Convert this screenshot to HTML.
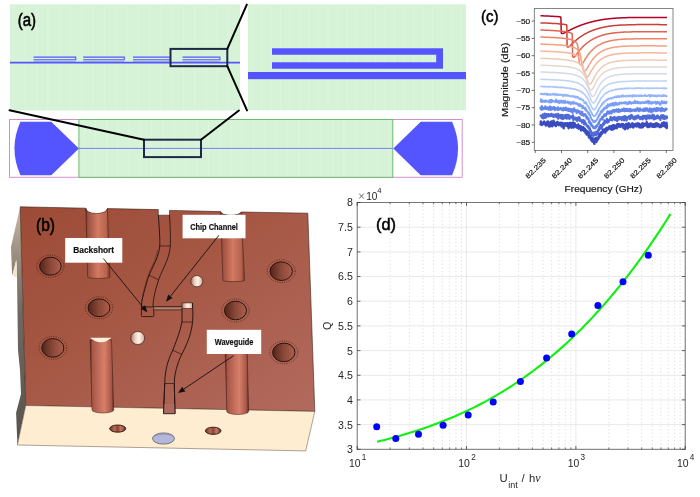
<!DOCTYPE html>
<html><head><meta charset="utf-8"><style>
html,body{margin:0;padding:0;background:#fff;width:700px;height:497px;overflow:hidden}
svg{display:block;will-change:transform}
</style></head><body>
<svg width="700" height="497" viewBox="0 0 700 497">
<rect width="700" height="497" fill="#fff"/>
<defs>
<linearGradient id="face" x1="0" y1="0" x2="1" y2="1">
  <stop offset="0" stop-color="#9c4b36"/>
  <stop offset="0.45" stop-color="#a65845"/>
  <stop offset="1" stop-color="#b26a5e"/>
</linearGradient>
<linearGradient id="side" x1="0" y1="0" x2="0" y2="1">
  <stop offset="0" stop-color="#cbbba6"/>
  <stop offset="0.2" stop-color="#9a8e80"/>
  <stop offset="0.45" stop-color="#6e6860"/>
  <stop offset="1" stop-color="#58534d"/>
</linearGradient>
<linearGradient id="pipe" x1="0" y1="0" x2="1" y2="0">
  <stop offset="0" stop-color="#5a2a1e"/>
  <stop offset="0.08" stop-color="#9a5040"/>
  <stop offset="0.5" stop-color="#d27a62"/>
  <stop offset="0.85" stop-color="#b8644e"/>
  <stop offset="1" stop-color="#7a3a2a"/>
</linearGradient>
<linearGradient id="boss" x1="0" y1="0" x2="1" y2="0">
  <stop offset="0" stop-color="#5a2a20"/>
  <stop offset="0.1" stop-color="#a85646"/>
  <stop offset="0.6" stop-color="#d6806a"/>
  <stop offset="0.9" stop-color="#a85848"/>
  <stop offset="1" stop-color="#5a2a20"/>
</linearGradient>
<linearGradient id="hole" x1="0" y1="0" x2="1" y2="0">
  <stop offset="0" stop-color="#50261a"/>
  <stop offset="0.5" stop-color="#8a4838"/>
  <stop offset="1" stop-color="#ac604e"/>
</linearGradient>
<linearGradient id="cream" x1="0" y1="0" x2="1" y2="0">
  <stop offset="0" stop-color="#a87868"/>
  <stop offset="0.35" stop-color="#f0d8c8"/>
  <stop offset="0.6" stop-color="#fff4e8"/>
  <stop offset="1" stop-color="#d0a890"/>
</linearGradient>
<linearGradient id="fh" x1="0" y1="0" x2="1" y2="0">
  <stop offset="0" stop-color="#6a3024"/>
  <stop offset="0.3" stop-color="#b86a58"/>
  <stop offset="0.5" stop-color="#8a4434"/>
  <stop offset="0.7" stop-color="#c87866"/>
  <stop offset="1" stop-color="#6a3024"/>
</linearGradient>
</defs>
<path d="M20.2 206.8 L11 246.8 L12.1 275.5 L16.5 260 L17 278 L18 350 L20 370 L21 394 L16.1 412.7 L17.4 445 L25.8 405.5 L22.5 290 Z" fill="url(#side)"/>
<path d="M12.6 275.8 L16.1 259.7 L17 277.5 Z" fill="#f4e4c8"/>
<path d="M20.2 206.8 L85.8 208.2 A10.8 6 0 0 0 107.4 208.6 L158.3 209.6 L158.3 215.2 L169.5 215.2 L169.5 210.4 L220.6 211.6 A10.3 3.6 0 0 0 241.2 212 L307.8 213.2 L314.8 411.4 L25.8 405.5 Z" fill="url(#face)" stroke="#3a2018" stroke-width="0.6"/>
<path d="M25.8 405.5 L314.8 411.4 L305.7 450.9 L17.4 445 Z" fill="#ffedd2" stroke="#5a4a40" stroke-width="0.5"/>
<path d="M85.8 208.4 A10.8 5 0 0 0 107.4 208.6 L109.9 277.2 A11 1.2 0 0 1 87.7 277.2 Z" fill="url(#pipe)" stroke="#4a2418" stroke-width="0.6"/>
<path d="M220.6 211.6 A10.3 3.6 0 0 0 241.2 212 L244.6 280.4 A10.8 1.2 0 0 1 222.9 280.4 Z" fill="url(#pipe)" stroke="#4a2418" stroke-width="0.6"/>
<path d="M90.1 340 L92 410 A10.85 3 0 0 0 113.7 410 L111.5 340 Z" fill="url(#boss)" stroke="#3a1a10" stroke-width="0.5"/>
<path d="M90.1 337.7 L111.5 337.7 Q101 347 90.1 337.7 Z" fill="#fbf0dc"/>
<path d="M225.2 350 L226.8 411.5 A10.9 3 0 0 0 248.6 411.5 L247.2 350 Z" fill="url(#boss)" stroke="#3a1a10" stroke-width="0.5"/>
<ellipse cx="50.4" cy="266.2" rx="13.600000000000001" ry="11.1" fill="none" stroke="#3a180e" stroke-width="0.75" stroke-dasharray="0.9 1.4"/>
<ellipse cx="50.4" cy="266.2" rx="10.8" ry="9" fill="url(#hole)" stroke="#2a120c" stroke-width="1"/>
<ellipse cx="99" cy="307.8" rx="13.7" ry="11.0" fill="none" stroke="#3a180e" stroke-width="0.75" stroke-dasharray="0.9 1.4"/>
<ellipse cx="99" cy="307.8" rx="10.9" ry="8.9" fill="url(#hole)" stroke="#2a120c" stroke-width="1"/>
<ellipse cx="52.8" cy="347.9" rx="13.8" ry="11.4" fill="none" stroke="#3a180e" stroke-width="0.75" stroke-dasharray="0.9 1.4"/>
<ellipse cx="52.8" cy="347.9" rx="11" ry="9.3" fill="url(#hole)" stroke="#2a120c" stroke-width="1"/>
<ellipse cx="281.2" cy="271.2" rx="14.0" ry="11.4" fill="none" stroke="#3a180e" stroke-width="0.75" stroke-dasharray="0.9 1.4"/>
<ellipse cx="281.2" cy="271.2" rx="11.2" ry="9.3" fill="url(#hole)" stroke="#2a120c" stroke-width="1"/>
<ellipse cx="235.5" cy="310.5" rx="13.8" ry="11.4" fill="none" stroke="#3a180e" stroke-width="0.75" stroke-dasharray="0.9 1.4"/>
<ellipse cx="235.5" cy="310.5" rx="11" ry="9.3" fill="url(#hole)" stroke="#2a120c" stroke-width="1"/>
<ellipse cx="283.8" cy="352.4" rx="14.0" ry="11.4" fill="none" stroke="#3a180e" stroke-width="0.75" stroke-dasharray="0.9 1.4"/>
<ellipse cx="283.8" cy="352.4" rx="11.2" ry="9.3" fill="url(#hole)" stroke="#2a120c" stroke-width="1"/>
<ellipse cx="196.8" cy="281.2" rx="6" ry="5.6" fill="url(#cream)" stroke="#3a2018" stroke-width="0.7"/>
<ellipse cx="137.7" cy="338" rx="7" ry="6.5" fill="url(#cream)" stroke="#3a2018" stroke-width="0.7"/>
<ellipse cx="117.7" cy="428.6" rx="8" ry="3.6" fill="url(#fh)" stroke="#2a120a" stroke-width="0.9"/>
<ellipse cx="213.2" cy="430.8" rx="7.8" ry="3.6" fill="url(#fh)" stroke="#2a120a" stroke-width="0.9"/>
<ellipse cx="163.5" cy="438.5" rx="11" ry="5.6" fill="#b4b8d8" stroke="#4a4a5a" stroke-width="0.7"/>
<path d="M153 437.5 A11 4.6 0 0 1 174 437.5" fill="none" stroke="#8a8ca8" stroke-width="0.8"/>
<path d="M158.3 215 C159.5 230 160 240 159.8 246 C158 262 150 268 146 285 C143 295 141.5 302 141.4 307" fill="none" stroke="#2a1610" stroke-width="1"/>
<path d="M169.5 215 C170.5 230 170.5 240 170.3 246 C169 262 161 270 157 285 C154 295 153 302 153 307" fill="none" stroke="#2a1610" stroke-width="0.9"/>
<line x1="159.8" y1="246" x2="170.3" y2="246" stroke="#2a1610" stroke-width="0.7"/>
<path d="M157.5 250 C156 262 149.5 268 145.5 284 C143.5 292 142 298 141.2 302" fill="none" stroke="#3a2018" stroke-width="0.6" opacity="0.8"/>
<line x1="148.5" y1="275" x2="159" y2="280" stroke="#2a1610" stroke-width="0.7"/>
<rect x="141.4" y="306.9" width="12.4" height="9.7" rx="1" fill="none" stroke="#2a1610" stroke-width="0.9"/>
<line x1="153.8" y1="306.6" x2="182" y2="306.6" stroke="#2a1a14" stroke-width="0.8"/>
<line x1="153.8" y1="308.2" x2="182" y2="308.2" stroke="#b0a09a" stroke-width="0.9"/>
<line x1="153.8" y1="310" x2="182" y2="310" stroke="#3a2a24" stroke-width="0.6"/>
<rect x="182" y="302.9" width="10.5" height="5.6" fill="url(#cream)" stroke="#2a1610" stroke-width="0.6"/>
<path d="M192.5 303 C193 312 193.2 320 192 326 C190 338 186 346 180 358 C176 368 174.3 376 174.3 384 L175 413.7" fill="none" stroke="#2a1610" stroke-width="1"/>
<path d="M182 308.5 L182 322 C180 332 176 342 172 352 C168 360 165 370 164.7 384 L163.5 413.7" fill="none" stroke="#2a1610" stroke-width="1"/>
<line x1="182" y1="322" x2="193" y2="322" stroke="#2a1610" stroke-width="0.7"/>
<line x1="173" y1="350.4" x2="182" y2="354.4" stroke="#2a1610" stroke-width="0.7"/>
<line x1="164.7" y1="383.5" x2="174.3" y2="383.5" stroke="#2a1610" stroke-width="0.7"/>
<path d="M163.8 404 L174.9 404 L175 413.7 L163.5 413.7 Z" fill="#ad6a5e"/>
<path d="M164.7 384 L163.5 413.7 L175 413.7 L174.3 384" fill="none" stroke="#2a1610" stroke-width="0.9"/>
<rect x="65.2" y="238" width="57.099999999999994" height="24.69999999999999" fill="#fff"/>
<text x="73.3" y="253.2" textLength="40.8" lengthAdjust="spacingAndGlyphs" font-family='"Liberation Sans", sans-serif' font-weight="bold" font-size="8.9" fill="#111" stroke="#111" stroke-width="0.2">Backshort</text>
<rect x="182.6" y="214.8" width="62.900000000000006" height="23.5" fill="#fff"/>
<text x="190.2" y="229.5" textLength="47.7" lengthAdjust="spacingAndGlyphs" font-family='"Liberation Sans", sans-serif' font-weight="bold" font-size="8.9" fill="#111" stroke="#111" stroke-width="0.2">Chip Channel</text>
<rect x="206.8" y="329.8" width="54.39999999999998" height="24.19999999999999" fill="#fff"/>
<text x="214.7" y="344.8" textLength="38.7" lengthAdjust="spacingAndGlyphs" font-family='"Liberation Sans", sans-serif' font-weight="bold" font-size="8.9" fill="#111" stroke="#111" stroke-width="0.2">Waveguide</text>
<line x1="103.4" y1="258.5" x2="143.0" y2="307.1" stroke="#111" stroke-width="0.9"/>
<path d="M147.4 312.5 L140.8 308.8 L145.1 305.3 Z" fill="#111"/>
<line x1="218.9" y1="235.3" x2="170.4" y2="296.3" stroke="#111" stroke-width="0.9"/>
<path d="M166 301.8 L168.2 294.6 L172.5 298.1 Z" fill="#111"/>
<line x1="233.5" y1="355.7" x2="183.8" y2="389.1" stroke="#111" stroke-width="0.9"/>
<path d="M178 393 L182.2 386.8 L185.4 391.4 Z" fill="#111"/>
<text x="36" y="231.4" textLength="19" lengthAdjust="spacingAndGlyphs" font-family='"Liberation Sans", sans-serif' font-size="17.6" fill="#000" stroke="#000" stroke-width="0.55">(b)</text>
<rect x="10" y="4.3" width="230" height="106.2" fill="#d7f3d7"/>
<rect x="248" y="4.3" width="218" height="105.9" fill="#d7f3d7"/>
<g stroke="#e8f6e8" stroke-width="0.6" opacity="0.6"><line x1="14.0" y1="4.3" x2="14.0" y2="110.5"/><line x1="25.3" y1="4.3" x2="25.3" y2="110.5"/><line x1="36.6" y1="4.3" x2="36.6" y2="110.5"/><line x1="47.900000000000006" y1="4.3" x2="47.900000000000006" y2="110.5"/><line x1="59.2" y1="4.3" x2="59.2" y2="110.5"/><line x1="70.5" y1="4.3" x2="70.5" y2="110.5"/><line x1="81.80000000000001" y1="4.3" x2="81.80000000000001" y2="110.5"/><line x1="93.10000000000001" y1="4.3" x2="93.10000000000001" y2="110.5"/><line x1="104.4" y1="4.3" x2="104.4" y2="110.5"/><line x1="115.7" y1="4.3" x2="115.7" y2="110.5"/><line x1="127.0" y1="4.3" x2="127.0" y2="110.5"/><line x1="138.3" y1="4.3" x2="138.3" y2="110.5"/><line x1="149.60000000000002" y1="4.3" x2="149.60000000000002" y2="110.5"/><line x1="160.9" y1="4.3" x2="160.9" y2="110.5"/><line x1="172.20000000000002" y1="4.3" x2="172.20000000000002" y2="110.5"/><line x1="183.5" y1="4.3" x2="183.5" y2="110.5"/><line x1="194.8" y1="4.3" x2="194.8" y2="110.5"/><line x1="206.10000000000002" y1="4.3" x2="206.10000000000002" y2="110.5"/><line x1="217.4" y1="4.3" x2="217.4" y2="110.5"/><line x1="228.70000000000002" y1="4.3" x2="228.70000000000002" y2="110.5"/></g>
<g stroke="#e8f6e8" stroke-width="0.6" opacity="0.6"><line x1="252.0" y1="4.3" x2="252.0" y2="110.2"/><line x1="261.5" y1="4.3" x2="261.5" y2="110.2"/><line x1="271.0" y1="4.3" x2="271.0" y2="110.2"/><line x1="280.5" y1="4.3" x2="280.5" y2="110.2"/><line x1="290.0" y1="4.3" x2="290.0" y2="110.2"/><line x1="299.5" y1="4.3" x2="299.5" y2="110.2"/><line x1="309.0" y1="4.3" x2="309.0" y2="110.2"/><line x1="318.5" y1="4.3" x2="318.5" y2="110.2"/><line x1="328.0" y1="4.3" x2="328.0" y2="110.2"/><line x1="337.5" y1="4.3" x2="337.5" y2="110.2"/><line x1="347.0" y1="4.3" x2="347.0" y2="110.2"/><line x1="356.5" y1="4.3" x2="356.5" y2="110.2"/><line x1="366.0" y1="4.3" x2="366.0" y2="110.2"/><line x1="375.5" y1="4.3" x2="375.5" y2="110.2"/><line x1="385.0" y1="4.3" x2="385.0" y2="110.2"/><line x1="394.5" y1="4.3" x2="394.5" y2="110.2"/><line x1="404.0" y1="4.3" x2="404.0" y2="110.2"/><line x1="413.5" y1="4.3" x2="413.5" y2="110.2"/><line x1="423.0" y1="4.3" x2="423.0" y2="110.2"/><line x1="432.5" y1="4.3" x2="432.5" y2="110.2"/><line x1="442.0" y1="4.3" x2="442.0" y2="110.2"/><line x1="451.5" y1="4.3" x2="451.5" y2="110.2"/><line x1="461.0" y1="4.3" x2="461.0" y2="110.2"/></g>
<line x1="10" y1="62.6" x2="240" y2="62.6" stroke="#5555ff" stroke-width="1.6"/>
<path d="M33.6 57.1 H75.7 V59.8 H33.6" fill="none" stroke="#5555ff" stroke-width="1.1"/>
<line x1="33.6" y1="61.2" x2="75.7" y2="61.2" stroke="#5555ff" stroke-width="0.8" opacity="0.6"/>
<path d="M83.2 57.1 H124.3 V59.8 H83.2" fill="none" stroke="#5555ff" stroke-width="1.1"/>
<line x1="83.2" y1="61.2" x2="124.3" y2="61.2" stroke="#5555ff" stroke-width="0.8" opacity="0.6"/>
<path d="M133 57.1 H170.5 V59.8 H133" fill="none" stroke="#5555ff" stroke-width="1.1"/>
<line x1="133" y1="61.2" x2="170.5" y2="61.2" stroke="#5555ff" stroke-width="0.8" opacity="0.6"/>
<path d="M182.5 57.1 H219.9 V59.8 H182.5" fill="none" stroke="#5555ff" stroke-width="1.1"/>
<line x1="182.5" y1="61.2" x2="219.9" y2="61.2" stroke="#5555ff" stroke-width="0.8" opacity="0.6"/>
<path d="M272 48.3 H443 V68.8 H272 V62.3 H436.2 V54.8 H272 Z" fill="#5555ff"/>
<rect x="248" y="72" width="218" height="7.2" fill="#5555ff"/>
<rect x="170.5" y="48.9" width="56.8" height="17.3" fill="none" stroke="#1c2a48" stroke-width="2"/>
<g stroke="#000" stroke-width="2" stroke-linecap="round"><line x1="246.8" y1="4.6" x2="227.3" y2="48.9"/><line x1="227.3" y1="66.2" x2="247" y2="110.4"/></g>
<rect x="9.5" y="119.5" width="452.7" height="57.8" fill="#fff" stroke="#d090d0" stroke-width="1"/>
<rect x="78.9" y="119.5" width="313.9" height="57.8" fill="#d7f3d7" stroke="#70b870" stroke-width="1"/>
<g stroke="#e8f6e8" stroke-width="0.6" opacity="0.6"><line x1="84.0" y1="120" x2="84.0" y2="177"/><line x1="95.3" y1="120" x2="95.3" y2="177"/><line x1="106.6" y1="120" x2="106.6" y2="177"/><line x1="117.9" y1="120" x2="117.9" y2="177"/><line x1="129.2" y1="120" x2="129.2" y2="177"/><line x1="140.5" y1="120" x2="140.5" y2="177"/><line x1="151.8" y1="120" x2="151.8" y2="177"/><line x1="163.1" y1="120" x2="163.1" y2="177"/><line x1="174.4" y1="120" x2="174.4" y2="177"/><line x1="185.7" y1="120" x2="185.7" y2="177"/><line x1="197.0" y1="120" x2="197.0" y2="177"/><line x1="208.3" y1="120" x2="208.3" y2="177"/><line x1="219.6" y1="120" x2="219.6" y2="177"/><line x1="230.9" y1="120" x2="230.9" y2="177"/><line x1="242.2" y1="120" x2="242.2" y2="177"/><line x1="253.5" y1="120" x2="253.5" y2="177"/><line x1="264.8" y1="120" x2="264.8" y2="177"/><line x1="276.1" y1="120" x2="276.1" y2="177"/><line x1="287.4" y1="120" x2="287.4" y2="177"/><line x1="298.7" y1="120" x2="298.7" y2="177"/><line x1="310.0" y1="120" x2="310.0" y2="177"/><line x1="321.3" y1="120" x2="321.3" y2="177"/><line x1="332.6" y1="120" x2="332.6" y2="177"/><line x1="343.9" y1="120" x2="343.9" y2="177"/><line x1="355.2" y1="120" x2="355.2" y2="177"/><line x1="366.5" y1="120" x2="366.5" y2="177"/><line x1="377.8" y1="120" x2="377.8" y2="177"/><line x1="389.1" y1="120" x2="389.1" y2="177"/></g>
<line x1="78.9" y1="148.4" x2="392.8" y2="148.4" stroke="#6a74ff" stroke-width="0.9"/>
<path d="M20.4 121.8 H51.3 L78.9 148.5 L51.3 175.2 H20.4 Q8.5 148.5 20.4 121.8 Z" fill="#5555ff"/>
<path d="M452.1 121.8 H420.7 L393.3 148.5 L420.7 175.2 H452.1 Q464 148.5 452.1 121.8 Z" fill="#5555ff"/>
<rect x="144" y="139.7" width="57" height="17.4" fill="none" stroke="#1c2a48" stroke-width="2"/>
<g stroke="#000" stroke-width="2" stroke-linecap="round"><line x1="9.5" y1="110.3" x2="144" y2="139.7"/><line x1="238.9" y1="110.5" x2="201" y2="139.7"/></g>
<text x="17.7" y="26.4" textLength="18.4" lengthAdjust="spacingAndGlyphs" font-family='"Liberation Sans", sans-serif' font-size="17.6" fill="#000" stroke="#000" stroke-width="0.55">(a)</text>
<rect x="534.3" y="8.5" width="138.70000000000005" height="141.9" fill="#fff" stroke="#666" stroke-width="0.8"/>
<g><path d="M540.4 15.7 L542.5 15.8 L544.6 15.9 L546.7 16.0 L548.7 16.1 L550.8 16.2 L552.9 16.3 L555.0 16.4 L555.5 16.4 L555.9 16.5 L556.3 16.5 L556.7 16.5 L557.1 16.6 L557.4 16.6 L557.8 16.6 L558.2 16.7 L558.6 16.7 L559.0 16.7 L559.4 16.8 L559.8 16.8 L560.2 16.9 L560.5 16.9 L560.9 16.9 L561.3 33.2 L561.7 33.5 L562.1 33.5 L562.5 33.5 L562.9 33.4 L563.3 33.3 L563.7 33.2 L564.0 33.0 L564.4 32.9 L564.8 32.7 L565.2 32.5 L565.6 32.3 L566.0 32.1 L566.4 31.9 L566.8 31.7 L567.1 31.5 L567.5 31.3 L567.9 31.1 L568.3 30.9 L568.7 30.7 L569.1 30.5 L569.5 30.3 L569.9 30.1 L570.3 29.9 L570.6 29.7 L571.0 29.5 L571.4 29.3 L571.8 29.1 L572.2 29.0 L572.6 28.8 L573.0 28.6 L573.4 28.4 L573.7 28.2 L574.1 28.0 L574.5 27.9 L574.9 27.7 L575.3 27.5 L575.7 27.3 L576.1 27.2 L576.5 27.0 L576.9 26.8 L577.2 26.7 L577.6 26.5 L578.0 26.4 L578.4 26.2 L578.8 26.0 L579.2 25.9 L579.6 25.7 L580.0 25.6 L580.3 25.4 L580.7 25.3 L581.1 25.1 L581.5 25.0 L581.9 24.9 L582.3 24.7 L582.7 24.6 L583.1 24.4 L583.5 24.3 L583.8 24.2 L584.2 24.1 L584.6 23.9 L585.0 23.8 L585.4 23.7 L585.8 23.5 L586.2 23.4 L586.6 23.3 L586.9 23.2 L587.3 23.1 L587.7 23.0 L588.1 22.8 L588.5 22.7 L588.9 22.6 L589.3 22.5 L589.7 22.4 L590.1 22.3 L590.4 22.2 L590.8 22.1 L591.2 22.0 L591.6 21.9 L592.0 21.8 L592.4 21.7 L592.8 21.6 L593.2 21.5 L593.6 21.4 L593.9 21.3 L594.3 21.2 L594.7 21.1 L595.1 21.0 L595.5 21.0 L595.9 20.9 L596.3 20.8 L596.7 20.7 L597.0 20.6 L597.4 20.6 L597.8 20.5 L598.2 20.4 L598.6 20.3 L599.0 20.2 L599.4 20.2 L599.8 20.1 L600.2 20.0 L600.5 20.0 L600.9 19.9 L601.3 19.8 L601.7 19.8 L602.1 19.7 L602.5 19.6 L602.9 19.6 L603.3 19.5 L603.6 19.5 L604.0 19.4 L604.4 19.3 L604.8 19.3 L605.2 19.2 L605.6 19.2 L606.0 19.1 L606.4 19.1 L606.8 19.0 L607.1 19.0 L607.5 18.9 L607.9 18.9 L608.3 18.8 L608.7 18.8 L609.1 18.8 L609.5 18.7 L609.9 18.7 L610.2 18.6 L610.6 18.6 L611.0 18.6 L611.4 18.5 L611.8 18.5 L612.2 18.4 L612.6 18.4 L613.0 18.4 L613.4 18.3 L613.7 18.3 L614.1 18.3 L614.5 18.2 L614.9 18.2 L615.3 18.2 L615.7 18.2 L616.1 18.1 L616.5 18.1 L616.8 18.1 L617.2 18.1 L617.6 18.0 L618.0 18.0 L618.4 18.0 L618.8 18.0 L619.2 17.9 L619.6 17.9 L620.0 17.9 L620.3 17.9 L620.7 17.9 L621.1 17.8 L621.5 17.8 L621.9 17.8 L622.3 17.8 L622.7 17.8 L623.1 17.8 L623.4 17.7 L623.8 17.7 L624.2 17.7 L624.6 17.7 L625.0 17.7 L626.0 17.7 L628.2 17.6 L630.3 17.5 L632.5 17.5 L634.6 17.5 L636.8 17.4 L638.9 17.4 L641.1 17.4 L643.3 17.4 L645.4 17.4 L647.6 17.4 L649.7 17.4 L651.9 17.4 L654.1 17.4 L656.2 17.4 L658.4 17.5 L660.5 17.5 L662.7 17.5 L664.8 17.5 L667.0 17.5" fill="none" stroke="#b30326" stroke-width="1.50" stroke-linejoin="round"/><path d="M540.4 22.9 L542.5 23.0 L544.6 23.1 L546.7 23.1 L548.7 23.2 L550.8 23.3 L552.9 23.4 L555.0 23.5 L555.5 23.6 L555.9 23.6 L556.3 23.6 L556.7 23.6 L557.1 23.7 L557.4 23.7 L557.8 23.7 L558.2 23.8 L558.6 23.8 L559.0 23.8 L559.4 23.9 L559.8 23.9 L560.2 23.9 L560.5 24.0 L560.9 24.0 L561.3 24.0 L561.7 24.1 L562.1 24.1 L562.5 24.2 L562.9 24.2 L563.3 24.3 L563.7 24.3 L564.0 24.4 L564.4 24.4 L564.8 24.5 L565.2 24.5 L565.6 24.6 L566.0 24.7 L566.4 24.8 L566.8 24.9 L567.1 46.5 L567.5 47.0 L567.9 47.1 L568.3 47.1 L568.7 46.9 L569.1 46.6 L569.5 46.3 L569.9 46.0 L570.3 45.7 L570.6 45.3 L571.0 44.9 L571.4 44.6 L571.8 44.2 L572.2 43.8 L572.6 43.4 L573.0 43.0 L573.4 42.7 L573.7 42.3 L574.1 41.9 L574.5 41.6 L574.9 41.2 L575.3 40.9 L575.7 40.5 L576.1 40.2 L576.5 39.9 L576.9 39.6 L577.2 39.2 L577.6 38.9 L578.0 38.6 L578.4 38.3 L578.8 38.0 L579.2 37.7 L579.6 37.4 L580.0 37.2 L580.3 36.9 L580.7 36.6 L581.1 36.4 L581.5 36.1 L581.9 35.8 L582.3 35.6 L582.7 35.4 L583.1 35.1 L583.5 34.9 L583.8 34.6 L584.2 34.4 L584.6 34.2 L585.0 34.0 L585.4 33.8 L585.8 33.5 L586.2 33.3 L586.6 33.1 L586.9 32.9 L587.3 32.7 L587.7 32.6 L588.1 32.4 L588.5 32.2 L588.9 32.0 L589.3 31.8 L589.7 31.6 L590.1 31.5 L590.4 31.3 L590.8 31.1 L591.2 31.0 L591.6 30.8 L592.0 30.7 L592.4 30.5 L592.8 30.4 L593.2 30.2 L593.6 30.1 L593.9 29.9 L594.3 29.8 L594.7 29.6 L595.1 29.5 L595.5 29.4 L595.9 29.3 L596.3 29.1 L596.7 29.0 L597.0 28.9 L597.4 28.8 L597.8 28.6 L598.2 28.5 L598.6 28.4 L599.0 28.3 L599.4 28.2 L599.8 28.1 L600.2 28.0 L600.5 27.9 L600.9 27.8 L601.3 27.7 L601.7 27.6 L602.1 27.5 L602.5 27.4 L602.9 27.4 L603.3 27.3 L603.6 27.2 L604.0 27.1 L604.4 27.0 L604.8 26.9 L605.2 26.9 L605.6 26.8 L606.0 26.7 L606.4 26.7 L606.8 26.6 L607.1 26.5 L607.5 26.5 L607.9 26.4 L608.3 26.3 L608.7 26.3 L609.1 26.2 L609.5 26.2 L609.9 26.1 L610.2 26.1 L610.6 26.0 L611.0 26.0 L611.4 25.9 L611.8 25.9 L612.2 25.8 L612.6 25.8 L613.0 25.7 L613.4 25.7 L613.7 25.6 L614.1 25.6 L614.5 25.6 L614.9 25.5 L615.3 25.5 L615.7 25.5 L616.1 25.4 L616.5 25.4 L616.8 25.4 L617.2 25.3 L617.6 25.3 L618.0 25.3 L618.4 25.2 L618.8 25.2 L619.2 25.2 L619.6 25.2 L620.0 25.1 L620.3 25.1 L620.7 25.1 L621.1 25.1 L621.5 25.1 L621.9 25.0 L622.3 25.0 L622.7 25.0 L623.1 25.0 L623.4 25.0 L623.8 24.9 L624.2 24.9 L624.6 24.9 L625.0 24.9 L626.0 24.9 L628.2 24.8 L630.3 24.7 L632.5 24.7 L634.6 24.7 L636.8 24.6 L638.9 24.6 L641.1 24.6 L643.3 24.6 L645.4 24.6 L647.6 24.6 L649.7 24.6 L651.9 24.6 L654.1 24.6 L656.2 24.6 L658.4 24.6 L660.5 24.7 L662.7 24.7 L664.8 24.7 L667.0 24.7" fill="none" stroke="#cc3f39" stroke-width="1.50" stroke-linejoin="round"/><path d="M540.4 30.0 L542.5 30.1 L544.6 30.2 L546.7 30.3 L548.7 30.3 L550.8 30.4 L552.9 30.5 L555.0 30.7 L555.5 30.7 L555.9 30.7 L556.3 30.7 L556.7 30.8 L557.1 30.8 L557.4 30.8 L557.8 30.9 L558.2 30.9 L558.6 30.9 L559.0 30.9 L559.4 31.0 L559.8 31.0 L560.2 31.0 L560.5 31.1 L560.9 31.1 L561.3 31.1 L561.7 31.2 L562.1 31.2 L562.5 31.3 L562.9 31.3 L563.3 31.4 L563.7 31.4 L564.0 31.5 L564.4 31.5 L564.8 31.6 L565.2 31.6 L565.6 31.7 L566.0 31.7 L566.4 31.8 L566.8 31.9 L567.1 32.0 L567.5 32.0 L567.9 32.1 L568.3 32.2 L568.7 32.3 L569.1 32.4 L569.5 32.5 L569.9 32.7 L570.3 32.8 L570.6 33.0 L571.0 33.1 L571.4 33.3 L571.8 33.5 L572.2 33.8 L572.6 56.2 L573.0 57.0 L573.4 57.3 L573.7 57.3 L574.1 57.1 L574.5 56.8 L574.9 56.4 L575.3 55.9 L575.7 55.5 L576.1 55.0 L576.5 54.5 L576.9 53.9 L577.2 53.4 L577.6 52.9 L578.0 52.4 L578.4 51.9 L578.8 51.4 L579.2 50.9 L579.6 50.4 L580.0 49.9 L580.3 49.5 L580.7 49.0 L581.1 48.6 L581.5 48.1 L581.9 47.7 L582.3 47.3 L582.7 46.9 L583.1 46.5 L583.5 46.1 L583.8 45.8 L584.2 45.4 L584.6 45.0 L585.0 44.7 L585.4 44.4 L585.8 44.0 L586.2 43.7 L586.6 43.4 L586.9 43.1 L587.3 42.8 L587.7 42.5 L588.1 42.2 L588.5 41.9 L588.9 41.6 L589.3 41.4 L589.7 41.1 L590.1 40.9 L590.4 40.6 L590.8 40.4 L591.2 40.1 L591.6 39.9 L592.0 39.7 L592.4 39.5 L592.8 39.2 L593.2 39.0 L593.6 38.8 L593.9 38.6 L594.3 38.4 L594.7 38.2 L595.1 38.0 L595.5 37.9 L595.9 37.7 L596.3 37.5 L596.7 37.3 L597.0 37.2 L597.4 37.0 L597.8 36.8 L598.2 36.7 L598.6 36.5 L599.0 36.4 L599.4 36.3 L599.8 36.1 L600.2 36.0 L600.5 35.8 L600.9 35.7 L601.3 35.6 L601.7 35.5 L602.1 35.3 L602.5 35.2 L602.9 35.1 L603.3 35.0 L603.6 34.9 L604.0 34.8 L604.4 34.7 L604.8 34.6 L605.2 34.5 L605.6 34.4 L606.0 34.3 L606.4 34.2 L606.8 34.1 L607.1 34.0 L607.5 34.0 L607.9 33.9 L608.3 33.8 L608.7 33.7 L609.1 33.7 L609.5 33.6 L609.9 33.5 L610.2 33.5 L610.6 33.4 L611.0 33.3 L611.4 33.3 L611.8 33.2 L612.2 33.2 L612.6 33.1 L613.0 33.1 L613.4 33.0 L613.7 33.0 L614.1 32.9 L614.5 32.9 L614.9 32.8 L615.3 32.8 L615.7 32.7 L616.1 32.7 L616.5 32.7 L616.8 32.6 L617.2 32.6 L617.6 32.6 L618.0 32.5 L618.4 32.5 L618.8 32.5 L619.2 32.4 L619.6 32.4 L620.0 32.4 L620.3 32.3 L620.7 32.3 L621.1 32.3 L621.5 32.3 L621.9 32.2 L622.3 32.2 L622.7 32.2 L623.1 32.2 L623.4 32.2 L623.8 32.1 L624.2 32.1 L624.6 32.1 L625.0 32.1 L626.0 32.0 L628.2 32.0 L630.3 31.9 L632.5 31.8 L634.6 31.8 L636.8 31.8 L638.9 31.7 L641.1 31.7 L643.3 31.7 L645.4 31.7 L647.6 31.7 L649.7 31.7 L651.9 31.7 L654.1 31.7 L656.2 31.7 L658.4 31.8 L660.5 31.8 L662.7 31.8 L664.8 31.8 L667.0 31.8" fill="none" stroke="#df644f" stroke-width="1.50" stroke-linejoin="round"/><path d="M540.4 37.0 L542.5 37.1 L544.6 37.2 L546.7 37.3 L548.7 37.3 L550.8 37.4 L552.9 37.5 L555.0 37.6 L555.5 37.7 L555.9 37.7 L556.3 37.7 L556.7 37.7 L557.1 37.8 L557.4 37.8 L557.8 37.8 L558.2 37.9 L558.6 37.9 L559.0 37.9 L559.4 37.9 L559.8 38.0 L560.2 38.0 L560.5 38.0 L560.9 38.1 L561.3 38.1 L561.7 38.1 L562.1 38.2 L562.5 38.2 L562.9 38.3 L563.3 38.3 L563.7 38.3 L564.0 38.4 L564.4 38.4 L564.8 38.5 L565.2 38.5 L565.6 38.6 L566.0 38.6 L566.4 38.7 L566.8 38.7 L567.1 38.8 L567.5 38.9 L567.9 38.9 L568.3 39.0 L568.7 39.1 L569.1 39.2 L569.5 39.3 L569.9 39.3 L570.3 39.4 L570.6 39.5 L571.0 39.6 L571.4 39.8 L571.8 39.9 L572.2 40.0 L572.6 40.2 L573.0 40.3 L573.4 40.5 L573.7 40.7 L574.1 40.9 L574.5 41.1 L574.9 41.4 L575.3 41.7 L575.7 42.0 L576.1 42.4 L576.5 42.9 L576.9 43.5 L577.2 44.3 L577.6 45.3 L578.0 47.1 L578.4 51.4 L578.8 58.1 L579.2 61.4 L579.6 63.2 L580.0 64.3 L580.3 64.8 L580.7 65.0 L581.1 65.0 L581.5 64.7 L581.9 64.3 L582.3 63.8 L582.7 63.3 L583.1 62.7 L583.5 62.1 L583.8 61.4 L584.2 60.8 L584.6 60.1 L585.0 59.5 L585.4 58.8 L585.8 58.2 L586.2 57.6 L586.6 57.0 L586.9 56.4 L587.3 55.9 L587.7 55.3 L588.1 54.8 L588.5 54.3 L588.9 53.8 L589.3 53.3 L589.7 52.8 L590.1 52.3 L590.4 51.9 L590.8 51.5 L591.2 51.1 L591.6 50.6 L592.0 50.3 L592.4 49.9 L592.8 49.5 L593.2 49.2 L593.6 48.8 L593.9 48.5 L594.3 48.1 L594.7 47.8 L595.1 47.5 L595.5 47.2 L595.9 46.9 L596.3 46.7 L596.7 46.4 L597.0 46.1 L597.4 45.9 L597.8 45.6 L598.2 45.4 L598.6 45.2 L599.0 44.9 L599.4 44.7 L599.8 44.5 L600.2 44.3 L600.5 44.1 L600.9 43.9 L601.3 43.7 L601.7 43.5 L602.1 43.4 L602.5 43.2 L602.9 43.0 L603.3 42.9 L603.6 42.7 L604.0 42.6 L604.4 42.4 L604.8 42.3 L605.2 42.2 L605.6 42.0 L606.0 41.9 L606.4 41.8 L606.8 41.7 L607.1 41.6 L607.5 41.5 L607.9 41.4 L608.3 41.3 L608.7 41.2 L609.1 41.1 L609.5 41.0 L609.9 40.9 L610.2 40.8 L610.6 40.7 L611.0 40.6 L611.4 40.6 L611.8 40.5 L612.2 40.4 L612.6 40.4 L613.0 40.3 L613.4 40.2 L613.7 40.2 L614.1 40.1 L614.5 40.1 L614.9 40.0 L615.3 40.0 L615.7 39.9 L616.1 39.9 L616.5 39.8 L616.8 39.8 L617.2 39.7 L617.6 39.7 L618.0 39.6 L618.4 39.6 L618.8 39.6 L619.2 39.5 L619.6 39.5 L620.0 39.5 L620.3 39.4 L620.7 39.4 L621.1 39.4 L621.5 39.3 L621.9 39.3 L622.3 39.3 L622.7 39.3 L623.1 39.2 L623.4 39.2 L623.8 39.2 L624.2 39.2 L624.6 39.1 L625.0 39.1 L626.0 39.1 L628.2 39.0 L630.3 38.9 L632.5 38.9 L634.6 38.8 L636.8 38.8 L638.9 38.8 L641.1 38.7 L643.3 38.7 L645.4 38.7 L647.6 38.7 L649.7 38.7 L651.9 38.7 L654.1 38.7 L656.2 38.8 L658.4 38.8 L660.5 38.8 L662.7 38.8 L664.8 38.8 L667.0 38.8" fill="none" stroke="#ed8467" stroke-width="1.50" stroke-linejoin="round"/><path d="M540.4 44.1 L542.5 44.2 L544.6 44.3 L546.7 44.3 L548.7 44.4 L550.8 44.5 L552.9 44.6 L555.0 44.7 L555.5 44.8 L555.9 44.8 L556.3 44.8 L556.7 44.8 L557.1 44.9 L557.4 44.9 L557.8 44.9 L558.2 44.9 L558.6 45.0 L559.0 45.0 L559.4 45.0 L559.8 45.0 L560.2 45.1 L560.5 45.1 L560.9 45.1 L561.3 45.2 L561.7 45.2 L562.1 45.2 L562.5 45.3 L562.9 45.3 L563.3 45.4 L563.7 45.4 L564.0 45.4 L564.4 45.5 L564.8 45.5 L565.2 45.6 L565.6 45.6 L566.0 45.7 L566.4 45.7 L566.8 45.8 L567.1 45.8 L567.5 45.9 L567.9 45.9 L568.3 46.0 L568.7 46.1 L569.1 46.1 L569.5 46.2 L569.9 46.3 L570.3 46.4 L570.6 46.5 L571.0 46.6 L571.4 46.7 L571.8 46.8 L572.2 46.9 L572.6 47.0 L573.0 47.1 L573.4 47.2 L573.7 47.4 L574.1 47.5 L574.5 47.7 L574.9 47.9 L575.3 48.1 L575.7 48.3 L576.1 48.5 L576.5 48.8 L576.9 49.0 L577.2 49.4 L577.6 49.7 L578.0 50.1 L578.4 50.6 L578.8 51.1 L579.2 51.8 L579.6 52.6 L580.0 53.6 L580.3 54.8 L580.7 56.4 L581.1 58.5 L581.5 61.0 L581.9 63.6 L582.3 66.0 L582.7 67.9 L583.1 69.3 L583.5 70.4 L583.8 71.0 L584.2 71.3 L584.6 71.4 L585.0 71.2 L585.4 70.9 L585.8 70.5 L586.2 69.9 L586.6 69.3 L586.9 68.7 L587.3 68.0 L587.7 67.3 L588.1 66.6 L588.5 65.9 L588.9 65.2 L589.3 64.6 L589.7 63.9 L590.1 63.3 L590.4 62.7 L590.8 62.0 L591.2 61.5 L591.6 60.9 L592.0 60.3 L592.4 59.8 L592.8 59.3 L593.2 58.8 L593.6 58.3 L593.9 57.9 L594.3 57.4 L594.7 57.0 L595.1 56.6 L595.5 56.2 L595.9 55.8 L596.3 55.4 L596.7 55.0 L597.0 54.7 L597.4 54.3 L597.8 54.0 L598.2 53.7 L598.6 53.4 L599.0 53.1 L599.4 52.8 L599.8 52.6 L600.2 52.3 L600.5 52.1 L600.9 51.8 L601.3 51.6 L601.7 51.4 L602.1 51.1 L602.5 50.9 L602.9 50.7 L603.3 50.5 L603.6 50.3 L604.0 50.2 L604.4 50.0 L604.8 49.8 L605.2 49.7 L605.6 49.5 L606.0 49.4 L606.4 49.2 L606.8 49.1 L607.1 49.0 L607.5 48.8 L607.9 48.7 L608.3 48.6 L608.7 48.5 L609.1 48.4 L609.5 48.3 L609.9 48.2 L610.2 48.1 L610.6 48.0 L611.0 47.9 L611.4 47.8 L611.8 47.7 L612.2 47.6 L612.6 47.6 L613.0 47.5 L613.4 47.4 L613.7 47.4 L614.1 47.3 L614.5 47.2 L614.9 47.2 L615.3 47.1 L615.7 47.1 L616.1 47.0 L616.5 47.0 L616.8 46.9 L617.2 46.9 L617.6 46.8 L618.0 46.8 L618.4 46.7 L618.8 46.7 L619.2 46.7 L619.6 46.6 L620.0 46.6 L620.3 46.6 L620.7 46.5 L621.1 46.5 L621.5 46.5 L621.9 46.4 L622.3 46.4 L622.7 46.4 L623.1 46.4 L623.4 46.3 L623.8 46.3 L624.2 46.3 L624.6 46.3 L625.0 46.2 L626.0 46.2 L628.2 46.1 L630.3 46.0 L632.5 46.0 L634.6 45.9 L636.8 45.9 L638.9 45.9 L641.1 45.8 L643.3 45.8 L645.4 45.8 L647.6 45.8 L649.7 45.8 L651.9 45.8 L654.1 45.8 L656.2 45.9 L658.4 45.9 L660.5 45.9 L662.7 45.9 L664.8 45.9 L667.0 45.9" fill="none" stroke="#f5a081" stroke-width="1.50" stroke-linejoin="round"/><path d="M540.4 51.1 L542.5 51.2 L544.6 51.3 L546.7 51.3 L548.7 51.4 L550.8 51.5 L552.9 51.6 L555.0 51.7 L555.5 51.7 L555.9 51.8 L556.3 51.8 L556.7 51.8 L557.1 51.8 L557.4 51.9 L557.8 51.9 L558.2 51.9 L558.6 51.9 L559.0 52.0 L559.4 52.0 L559.8 52.0 L560.2 52.0 L560.5 52.1 L560.9 52.1 L561.3 52.1 L561.7 52.2 L562.1 52.2 L562.5 52.2 L562.9 52.3 L563.3 52.3 L563.7 52.4 L564.0 52.4 L564.4 52.4 L564.8 52.5 L565.2 52.5 L565.6 52.6 L566.0 52.6 L566.4 52.7 L566.8 52.7 L567.1 52.8 L567.5 52.8 L567.9 52.9 L568.3 52.9 L568.7 53.0 L569.1 53.1 L569.5 53.1 L569.9 53.2 L570.3 53.3 L570.6 53.4 L571.0 53.4 L571.4 53.5 L571.8 53.6 L572.2 53.7 L572.6 53.8 L573.0 53.9 L573.4 54.0 L573.7 54.2 L574.1 54.3 L574.5 54.4 L574.9 54.6 L575.3 54.7 L575.7 54.9 L576.1 55.1 L576.5 55.3 L576.9 55.5 L577.2 55.8 L577.6 56.0 L578.0 56.3 L578.4 56.6 L578.8 57.0 L579.2 57.4 L579.6 57.8 L580.0 58.3 L580.3 58.9 L580.7 59.5 L581.1 60.3 L581.5 61.2 L581.9 62.3 L582.3 63.5 L582.7 65.0 L583.1 66.6 L583.5 68.4 L583.8 70.3 L584.2 72.0 L584.6 73.6 L585.0 75.0 L585.4 76.0 L585.8 76.8 L586.2 77.2 L586.6 77.4 L586.9 77.4 L587.3 77.2 L587.7 76.8 L588.1 76.4 L588.5 75.8 L588.9 75.2 L589.3 74.5 L589.7 73.8 L590.1 73.1 L590.4 72.4 L590.8 71.7 L591.2 71.0 L591.6 70.4 L592.0 69.7 L592.4 69.1 L592.8 68.4 L593.2 67.8 L593.6 67.2 L593.9 66.7 L594.3 66.1 L594.7 65.6 L595.1 65.1 L595.5 64.6 L595.9 64.1 L596.3 63.7 L596.7 63.2 L597.0 62.8 L597.4 62.4 L597.8 62.0 L598.2 61.6 L598.6 61.3 L599.0 60.9 L599.4 60.6 L599.8 60.3 L600.2 60.0 L600.5 59.7 L600.9 59.4 L601.3 59.1 L601.7 58.8 L602.1 58.6 L602.5 58.4 L602.9 58.1 L603.3 57.9 L603.6 57.7 L604.0 57.5 L604.4 57.3 L604.8 57.1 L605.2 56.9 L605.6 56.7 L606.0 56.6 L606.4 56.4 L606.8 56.3 L607.1 56.1 L607.5 56.0 L607.9 55.9 L608.3 55.7 L608.7 55.6 L609.1 55.5 L609.5 55.4 L609.9 55.3 L610.2 55.2 L610.6 55.1 L611.0 55.0 L611.4 54.9 L611.8 54.8 L612.2 54.7 L612.6 54.6 L613.0 54.5 L613.4 54.5 L613.7 54.4 L614.1 54.3 L614.5 54.3 L614.9 54.2 L615.3 54.1 L615.7 54.1 L616.1 54.0 L616.5 54.0 L616.8 53.9 L617.2 53.9 L617.6 53.8 L618.0 53.8 L618.4 53.7 L618.8 53.7 L619.2 53.7 L619.6 53.6 L620.0 53.6 L620.3 53.6 L620.7 53.5 L621.1 53.5 L621.5 53.5 L621.9 53.4 L622.3 53.4 L622.7 53.4 L623.1 53.3 L623.4 53.3 L623.8 53.3 L624.2 53.3 L624.6 53.3 L625.0 53.2 L626.0 53.2 L628.2 53.1 L630.3 53.0 L632.5 53.0 L634.6 52.9 L636.8 52.9 L638.9 52.9 L641.1 52.8 L643.3 52.8 L645.4 52.8 L647.6 52.8 L649.7 52.8 L651.9 52.8 L654.1 52.8 L656.2 52.8 L658.4 52.9 L660.5 52.9 L662.7 52.9 L664.8 52.9 L667.0 52.9" fill="none" stroke="#f6b79c" stroke-width="1.50" stroke-linejoin="round"/><path d="M540.4 58.4 L542.5 58.5 L544.6 58.6 L546.7 58.6 L548.7 58.7 L550.8 58.8 L552.9 58.9 L555.0 59.0 L555.5 59.0 L555.9 59.0 L556.3 59.1 L556.7 59.1 L557.1 59.1 L557.4 59.1 L557.8 59.2 L558.2 59.2 L558.6 59.2 L559.0 59.2 L559.4 59.3 L559.8 59.3 L560.2 59.3 L560.5 59.4 L560.9 59.4 L561.3 59.4 L561.7 59.4 L562.1 59.5 L562.5 59.5 L562.9 59.5 L563.3 59.6 L563.7 59.6 L564.0 59.7 L564.4 59.7 L564.8 59.7 L565.2 59.8 L565.6 59.8 L566.0 59.9 L566.4 59.9 L566.8 60.0 L567.1 60.0 L567.5 60.1 L567.9 60.1 L568.3 60.2 L568.7 60.2 L569.1 60.3 L569.5 60.3 L569.9 60.4 L570.3 60.5 L570.6 60.5 L571.0 60.6 L571.4 60.7 L571.8 60.8 L572.2 60.9 L572.6 61.0 L573.0 61.1 L573.4 61.2 L573.7 61.3 L574.1 61.4 L574.5 61.5 L574.9 61.6 L575.3 61.7 L575.7 61.9 L576.1 62.0 L576.5 62.2 L576.9 62.3 L577.2 62.5 L577.6 62.7 L578.0 62.9 L578.4 63.1 L578.8 63.4 L579.2 63.6 L579.6 63.9 L580.0 64.2 L580.3 64.6 L580.7 64.9 L581.1 65.3 L581.5 65.7 L581.9 66.2 L582.3 66.7 L582.7 67.3 L583.1 68.0 L583.5 68.7 L583.8 69.5 L584.2 70.4 L584.6 71.3 L585.0 72.4 L585.4 73.6 L585.8 74.8 L586.2 76.1 L586.6 77.4 L586.9 78.7 L587.3 80.0 L587.7 81.2 L588.1 82.2 L588.5 83.0 L588.9 83.7 L589.3 84.1 L589.7 84.3 L590.1 84.2 L590.4 84.0 L590.8 83.7 L591.2 83.2 L591.6 82.6 L592.0 81.9 L592.4 81.2 L592.8 80.4 L593.2 79.7 L593.6 78.9 L593.9 78.1 L594.3 77.4 L594.7 76.7 L595.1 75.9 L595.5 75.2 L595.9 74.6 L596.3 73.9 L596.7 73.3 L597.0 72.7 L597.4 72.1 L597.8 71.6 L598.2 71.0 L598.6 70.5 L599.0 70.1 L599.4 69.6 L599.8 69.2 L600.2 68.7 L600.5 68.3 L600.9 68.0 L601.3 67.6 L601.7 67.2 L602.1 66.9 L602.5 66.6 L602.9 66.3 L603.3 66.0 L603.6 65.7 L604.0 65.5 L604.4 65.2 L604.8 65.0 L605.2 64.8 L605.6 64.6 L606.0 64.4 L606.4 64.2 L606.8 64.0 L607.1 63.8 L607.5 63.6 L607.9 63.5 L608.3 63.3 L608.7 63.2 L609.1 63.0 L609.5 62.9 L609.9 62.8 L610.2 62.7 L610.6 62.5 L611.0 62.4 L611.4 62.3 L611.8 62.2 L612.2 62.1 L612.6 62.0 L613.0 62.0 L613.4 61.9 L613.7 61.8 L614.1 61.7 L614.5 61.7 L614.9 61.6 L615.3 61.5 L615.7 61.5 L616.1 61.4 L616.5 61.3 L616.8 61.3 L617.2 61.2 L617.6 61.2 L618.0 61.1 L618.4 61.1 L618.8 61.0 L619.2 61.0 L619.6 61.0 L620.0 60.9 L620.3 60.9 L620.7 60.8 L621.1 60.8 L621.5 60.8 L621.9 60.8 L622.3 60.7 L622.7 60.7 L623.1 60.7 L623.4 60.6 L623.8 60.6 L624.2 60.6 L624.6 60.6 L625.0 60.5 L626.0 60.5 L628.2 60.4 L630.3 60.3 L632.5 60.3 L634.6 60.2 L636.8 60.2 L638.9 60.2 L641.1 60.1 L643.3 60.1 L645.4 60.1 L647.6 60.1 L649.7 60.1 L651.9 60.1 L654.1 60.1 L656.2 60.1 L658.4 60.2 L660.5 60.2 L662.7 60.2 L664.8 60.2 L667.0 60.2" fill="none" stroke="#f1cab6" stroke-width="1.50" stroke-linejoin="round"/><path d="M540.4 65.2 L542.5 65.3 L544.6 65.3 L546.7 65.4 L548.7 65.5 L550.8 65.6 L552.9 65.7 L555.0 65.8 L555.5 65.8 L555.9 65.8 L556.3 65.9 L556.7 65.9 L557.1 65.9 L557.4 65.9 L557.8 65.9 L558.2 66.0 L558.6 66.0 L559.0 66.0 L559.4 66.0 L559.8 66.1 L560.2 66.1 L560.5 66.1 L560.9 66.2 L561.3 66.2 L561.7 66.2 L562.1 66.3 L562.5 66.3 L562.9 66.3 L563.3 66.4 L563.7 66.4 L564.0 66.4 L564.4 66.5 L564.8 66.5 L565.2 66.5 L565.6 66.6 L566.0 66.6 L566.4 66.7 L566.8 66.7 L567.1 66.8 L567.5 66.8 L567.9 66.9 L568.3 66.9 L568.7 67.0 L569.1 67.0 L569.5 67.1 L569.9 67.2 L570.3 67.2 L570.6 67.3 L571.0 67.4 L571.4 67.4 L571.8 67.5 L572.2 67.6 L572.6 67.7 L573.0 67.8 L573.4 67.9 L573.7 68.0 L574.1 68.1 L574.5 68.2 L574.9 68.3 L575.3 68.4 L575.7 68.5 L576.1 68.7 L576.5 68.8 L576.9 69.0 L577.2 69.1 L577.6 69.3 L578.0 69.5 L578.4 69.7 L578.8 69.9 L579.2 70.1 L579.6 70.3 L580.0 70.6 L580.3 70.9 L580.7 71.2 L581.1 71.5 L581.5 71.9 L581.9 72.2 L582.3 72.7 L582.7 73.1 L583.1 73.6 L583.5 74.1 L583.8 74.7 L584.2 75.4 L584.6 76.1 L585.0 76.9 L585.4 77.7 L585.8 78.6 L586.2 79.6 L586.6 80.6 L586.9 81.7 L587.3 82.9 L587.7 84.0 L588.1 85.2 L588.5 86.3 L588.9 87.3 L589.3 88.2 L589.7 88.9 L590.1 89.5 L590.4 89.9 L590.8 90.1 L591.2 90.1 L591.6 89.9 L592.0 89.6 L592.4 89.1 L592.8 88.5 L593.2 87.9 L593.6 87.2 L593.9 86.4 L594.3 85.7 L594.7 84.9 L595.1 84.2 L595.5 83.4 L595.9 82.7 L596.3 82.0 L596.7 81.3 L597.0 80.6 L597.4 79.9 L597.8 79.3 L598.2 78.7 L598.6 78.2 L599.0 77.6 L599.4 77.1 L599.8 76.6 L600.2 76.1 L600.5 75.7 L600.9 75.3 L601.3 74.8 L601.7 74.5 L602.1 74.1 L602.5 73.7 L602.9 73.4 L603.3 73.1 L603.6 72.8 L604.0 72.5 L604.4 72.2 L604.8 72.0 L605.2 71.8 L605.6 71.5 L606.0 71.3 L606.4 71.1 L606.8 70.9 L607.1 70.7 L607.5 70.5 L607.9 70.4 L608.3 70.2 L608.7 70.0 L609.1 69.9 L609.5 69.8 L609.9 69.6 L610.2 69.5 L610.6 69.4 L611.0 69.3 L611.4 69.2 L611.8 69.1 L612.2 69.0 L612.6 68.9 L613.0 68.8 L613.4 68.7 L613.7 68.6 L614.1 68.5 L614.5 68.5 L614.9 68.4 L615.3 68.3 L615.7 68.3 L616.1 68.2 L616.5 68.1 L616.8 68.1 L617.2 68.0 L617.6 68.0 L618.0 67.9 L618.4 67.9 L618.8 67.8 L619.2 67.8 L619.6 67.8 L620.0 67.7 L620.3 67.7 L620.7 67.6 L621.1 67.6 L621.5 67.6 L621.9 67.5 L622.3 67.5 L622.7 67.5 L623.1 67.5 L623.4 67.4 L623.8 67.4 L624.2 67.4 L624.6 67.4 L625.0 67.3 L626.0 67.3 L628.2 67.2 L630.3 67.1 L632.5 67.1 L634.6 67.0 L636.8 67.0 L638.9 66.9 L641.1 66.9 L643.3 66.9 L645.4 66.9 L647.6 66.9 L649.7 66.9 L651.9 66.9 L654.1 66.9 L656.2 66.9 L658.4 67.0 L660.5 67.0 L662.7 67.0 L664.8 67.0 L667.0 67.0" fill="none" stroke="#e5d8d0" stroke-width="1.50" stroke-linejoin="round"/><path d="M540.4 72.0 L542.5 72.1 L544.6 72.1 L546.7 72.2 L548.7 72.3 L550.8 72.4 L552.9 72.5 L555.0 72.6 L555.5 72.6 L555.9 72.6 L556.3 72.6 L556.7 72.7 L557.1 72.7 L557.4 72.7 L557.8 72.7 L558.2 72.8 L558.6 72.8 L559.0 72.8 L559.4 72.8 L559.8 72.9 L560.2 72.9 L560.5 72.9 L560.9 72.9 L561.3 73.0 L561.7 73.0 L562.1 73.0 L562.5 73.1 L562.9 73.1 L563.3 73.1 L563.7 73.2 L564.0 73.2 L564.4 73.2 L564.8 73.3 L565.2 73.3 L565.6 73.4 L566.0 73.4 L566.4 73.4 L566.8 73.5 L567.1 73.5 L567.5 73.6 L567.9 73.6 L568.3 73.7 L568.7 73.7 L569.1 73.8 L569.5 73.8 L569.9 73.9 L570.3 74.0 L570.6 74.0 L571.0 74.1 L571.4 74.2 L571.8 74.2 L572.2 74.3 L572.6 74.4 L573.0 74.5 L573.4 74.6 L573.7 74.6 L574.1 74.7 L574.5 74.8 L574.9 74.9 L575.3 75.1 L575.7 75.2 L576.1 75.3 L576.5 75.4 L576.9 75.6 L577.2 75.7 L577.6 75.8 L578.0 76.0 L578.4 76.2 L578.8 76.4 L579.2 76.5 L579.6 76.7 L580.0 77.0 L580.3 77.2 L580.7 77.4 L581.1 77.7 L581.5 78.0 L581.9 78.3 L582.3 78.6 L582.7 79.0 L583.1 79.3 L583.5 79.7 L583.8 80.1 L584.2 80.6 L584.6 81.1 L585.0 81.6 L585.4 82.2 L585.8 82.8 L586.2 83.5 L586.6 84.2 L586.9 85.0 L587.3 85.8 L587.7 86.7 L588.1 87.6 L588.5 88.5 L588.9 89.5 L589.3 90.5 L589.7 91.5 L590.1 92.4 L590.4 93.4 L590.8 94.2 L591.2 95.0 L591.6 95.6 L592.0 96.0 L592.4 96.3 L592.8 96.4 L593.2 96.4 L593.6 96.1 L593.9 95.7 L594.3 95.2 L594.7 94.6 L595.1 93.9 L595.5 93.2 L595.9 92.4 L596.3 91.6 L596.7 90.8 L597.0 90.0 L597.4 89.2 L597.8 88.4 L598.2 87.7 L598.6 86.9 L599.0 86.3 L599.4 85.6 L599.8 85.0 L600.2 84.4 L600.5 83.8 L600.9 83.3 L601.3 82.8 L601.7 82.3 L602.1 81.8 L602.5 81.4 L602.9 81.0 L603.3 80.6 L603.6 80.3 L604.0 79.9 L604.4 79.6 L604.8 79.3 L605.2 79.0 L605.6 78.7 L606.0 78.5 L606.4 78.2 L606.8 78.0 L607.1 77.8 L607.5 77.6 L607.9 77.4 L608.3 77.2 L608.7 77.0 L609.1 76.9 L609.5 76.7 L609.9 76.6 L610.2 76.4 L610.6 76.3 L611.0 76.2 L611.4 76.1 L611.8 75.9 L612.2 75.8 L612.6 75.7 L613.0 75.6 L613.4 75.6 L613.7 75.5 L614.1 75.4 L614.5 75.3 L614.9 75.2 L615.3 75.2 L615.7 75.1 L616.1 75.0 L616.5 75.0 L616.8 74.9 L617.2 74.9 L617.6 74.8 L618.0 74.7 L618.4 74.7 L618.8 74.7 L619.2 74.6 L619.6 74.6 L620.0 74.5 L620.3 74.5 L620.7 74.4 L621.1 74.4 L621.5 74.4 L621.9 74.3 L622.3 74.3 L622.7 74.3 L623.1 74.3 L623.4 74.2 L623.8 74.2 L624.2 74.2 L624.6 74.2 L625.0 74.1 L626.0 74.1 L628.2 74.0 L630.3 73.9 L632.5 73.8 L634.6 73.8 L636.8 73.8 L638.9 73.7 L641.1 73.7 L643.3 73.7 L645.4 73.7 L647.6 73.7 L649.7 73.7 L651.9 73.7 L654.1 73.7 L656.2 73.7 L658.4 73.8 L660.5 73.8 L662.7 73.8 L664.8 73.8 L667.0 73.8" fill="none" stroke="#d3dbe6" stroke-width="1.50" stroke-linejoin="round"/><path d="M540.4 79.3 L542.5 79.4 L544.6 79.4 L546.7 79.5 L548.7 79.6 L550.8 79.7 L552.9 79.8 L555.0 79.9 L555.5 79.9 L555.9 79.9 L556.3 79.9 L556.7 80.0 L557.1 80.0 L557.4 80.0 L557.8 80.0 L558.2 80.0 L558.6 80.1 L559.0 80.1 L559.4 80.1 L559.8 80.1 L560.2 80.2 L560.5 80.2 L560.9 80.2 L561.3 80.3 L561.7 80.3 L562.1 80.3 L562.5 80.3 L562.9 80.4 L563.3 80.4 L563.7 80.4 L564.0 80.5 L564.4 80.5 L564.8 80.6 L565.2 80.6 L565.6 80.6 L566.0 80.7 L566.4 80.7 L566.8 80.8 L567.1 80.8 L567.5 80.8 L567.9 80.9 L568.3 80.9 L568.7 81.0 L569.1 81.0 L569.5 81.1 L569.9 81.2 L570.3 81.2 L570.6 81.3 L571.0 81.3 L571.4 81.4 L571.8 81.5 L572.2 81.6 L572.6 81.6 L573.0 81.7 L573.4 81.8 L573.7 81.9 L574.1 82.0 L574.5 82.1 L574.9 82.2 L575.3 82.3 L575.7 82.4 L576.1 82.5 L576.5 82.6 L576.9 82.7 L577.2 82.9 L577.6 83.0 L578.0 83.2 L578.4 83.3 L578.8 83.5 L579.2 83.7 L579.6 83.9 L580.0 84.1 L580.3 84.3 L580.7 84.5 L581.1 84.8 L581.5 85.0 L581.9 85.3 L582.3 85.6 L582.7 85.9 L583.1 86.2 L583.5 86.6 L583.8 87.0 L584.2 87.4 L584.6 87.8 L585.0 88.3 L585.4 88.8 L585.8 89.3 L586.2 89.9 L586.6 90.5 L586.9 91.2 L587.3 91.8 L587.7 92.6 L588.1 93.4 L588.5 94.2 L588.9 95.0 L589.3 95.9 L589.7 96.8 L590.1 97.7 L590.4 98.7 L590.8 99.5 L591.2 100.4 L591.6 101.1 L592.0 101.8 L592.4 102.3 L592.8 102.7 L593.2 103.0 L593.6 103.0 L593.9 102.9 L594.3 102.7 L594.7 102.3 L595.1 101.8 L595.5 101.1 L595.9 100.5 L596.3 99.7 L596.7 98.9 L597.0 98.1 L597.4 97.3 L597.8 96.5 L598.2 95.7 L598.6 95.0 L599.0 94.2 L599.4 93.5 L599.8 92.9 L600.2 92.2 L600.5 91.6 L600.9 91.0 L601.3 90.5 L601.7 90.0 L602.1 89.5 L602.5 89.0 L602.9 88.6 L603.3 88.2 L603.6 87.8 L604.0 87.4 L604.4 87.1 L604.8 86.7 L605.2 86.4 L605.6 86.1 L606.0 85.9 L606.4 85.6 L606.8 85.4 L607.1 85.2 L607.5 84.9 L607.9 84.7 L608.3 84.6 L608.7 84.4 L609.1 84.2 L609.5 84.0 L609.9 83.9 L610.2 83.8 L610.6 83.6 L611.0 83.5 L611.4 83.4 L611.8 83.3 L612.2 83.1 L612.6 83.0 L613.0 82.9 L613.4 82.9 L613.7 82.8 L614.1 82.7 L614.5 82.6 L614.9 82.5 L615.3 82.5 L615.7 82.4 L616.1 82.3 L616.5 82.3 L616.8 82.2 L617.2 82.1 L617.6 82.1 L618.0 82.0 L618.4 82.0 L618.8 81.9 L619.2 81.9 L619.6 81.9 L620.0 81.8 L620.3 81.8 L620.7 81.7 L621.1 81.7 L621.5 81.7 L621.9 81.6 L622.3 81.6 L622.7 81.6 L623.1 81.5 L623.4 81.5 L623.8 81.5 L624.2 81.5 L624.6 81.4 L625.0 81.4 L626.0 81.4 L628.2 81.3 L630.3 81.2 L632.5 81.1 L634.6 81.1 L636.8 81.1 L638.9 81.0 L641.1 81.0 L643.3 81.0 L645.4 81.0 L647.6 81.0 L649.7 81.0 L651.9 81.0 L654.1 81.0 L656.2 81.0 L658.4 81.0 L660.5 81.1 L662.7 81.1 L664.8 81.1 L667.0 81.1" fill="none" stroke="#c0d3f5" stroke-width="1.50" stroke-linejoin="round"/><path d="M540.4 86.9 L540.7 86.6 L540.9 86.5 L541.2 86.1 L541.4 86.5 L541.7 86.5 L541.9 86.5 L542.2 86.4 L542.4 86.5 L542.7 86.5 L542.9 86.3 L543.2 86.8 L543.4 86.8 L543.7 87.0 L544.0 86.6 L544.2 86.5 L544.5 86.5 L544.7 86.3 L545.0 86.9 L545.2 86.4 L545.5 86.4 L545.7 86.6 L546.0 87.0 L546.2 86.7 L546.5 86.5 L546.7 86.5 L547.0 86.8 L547.3 86.7 L547.5 86.6 L547.8 86.7 L548.0 86.9 L548.3 87.2 L548.5 86.5 L548.8 86.6 L549.0 86.6 L549.3 86.3 L549.5 86.6 L549.8 86.6 L550.0 87.1 L550.3 86.8 L550.5 86.5 L550.8 87.0 L551.1 86.8 L551.3 86.5 L551.6 86.8 L551.8 86.8 L552.1 86.7 L552.3 86.9 L552.6 86.4 L552.8 86.9 L553.1 87.2 L553.3 87.2 L553.6 87.2 L553.8 87.2 L554.1 87.3 L554.4 86.8 L554.6 87.2 L554.9 86.6 L555.1 86.9 L555.4 86.6 L555.6 87.3 L555.9 87.4 L556.1 87.1 L556.4 87.5 L556.6 87.0 L556.9 87.2 L557.1 87.2 L557.4 86.9 L557.7 87.3 L557.9 87.6 L558.2 87.0 L558.4 87.4 L558.7 87.2 L558.9 87.7 L559.2 87.4 L559.4 87.5 L559.7 87.5 L559.9 87.4 L560.2 87.1 L560.4 87.7 L560.7 87.1 L561.0 87.5 L561.2 87.6 L561.5 87.3 L561.7 87.5 L562.0 87.7 L562.2 87.5 L562.5 87.3 L562.7 86.9 L563.0 87.4 L563.2 87.5 L563.5 87.5 L563.7 87.4 L564.0 87.7 L564.2 87.6 L564.5 87.7 L564.8 87.9 L565.0 87.6 L565.3 87.7 L565.5 88.3 L565.8 88.0 L566.0 87.6 L566.3 87.9 L566.5 88.0 L566.8 88.2 L567.0 88.0 L567.3 87.9 L567.5 87.9 L567.8 88.2 L568.1 88.1 L568.3 88.0 L568.6 88.1 L568.8 88.1 L569.1 88.4 L569.3 88.1 L569.6 88.4 L569.8 88.5 L570.1 88.5 L570.3 88.2 L570.6 88.7 L570.8 88.3 L571.1 88.6 L571.4 88.4 L571.6 88.2 L571.9 88.7 L572.1 88.8 L572.4 88.7 L572.6 88.9 L572.9 88.7 L573.1 88.7 L573.4 88.9 L573.6 89.4 L573.9 89.2 L574.1 89.0 L574.4 89.3 L574.7 89.1 L574.9 89.2 L575.2 89.6 L575.4 89.3 L575.7 89.1 L575.9 89.4 L576.2 89.7 L576.4 89.8 L576.7 90.1 L576.9 89.7 L577.2 90.1 L577.4 90.1 L577.7 90.1 L577.9 90.4 L578.2 90.4 L578.5 90.2 L578.7 90.8 L579.0 90.4 L579.2 90.8 L579.5 90.9 L579.7 91.1 L580.0 91.0 L580.2 91.2 L580.5 91.4 L580.7 91.7 L581.0 91.5 L581.2 91.8 L581.5 91.9 L581.8 91.9 L582.0 92.9 L582.3 92.5 L582.5 92.4 L582.8 93.2 L583.0 92.8 L583.3 93.4 L583.5 93.7 L583.8 93.6 L584.0 93.9 L584.3 94.1 L584.5 94.5 L584.8 94.4 L585.1 94.8 L585.3 95.3 L585.6 95.9 L585.8 96.1 L586.1 96.7 L586.3 96.8 L586.6 96.9 L586.8 97.4 L587.1 97.3 L587.3 98.0 L587.6 98.4 L587.8 99.1 L588.1 99.6 L588.4 99.9 L588.6 100.3 L588.9 100.6 L589.1 101.5 L589.4 102.1 L589.6 102.6 L589.9 102.9 L590.1 104.1 L590.4 104.5 L590.6 104.7 L590.9 105.2 L591.1 105.8 L591.4 106.4 L591.6 106.8 L591.9 107.4 L592.2 107.9 L592.4 108.5 L592.7 108.8 L592.9 108.8 L593.2 109.2 L593.4 109.2 L593.7 109.2 L593.9 109.9 L594.2 109.3 L594.4 109.8 L594.7 109.1 L594.9 109.0 L595.2 109.0 L595.5 108.4 L595.7 108.2 L596.0 107.6 L596.2 107.2 L596.5 106.8 L596.7 106.2 L597.0 106.2 L597.2 105.3 L597.5 105.2 L597.7 103.7 L598.0 103.8 L598.2 103.4 L598.5 102.7 L598.8 102.5 L599.0 101.9 L599.3 101.3 L599.5 100.9 L599.8 101.0 L600.0 100.0 L600.3 99.6 L600.5 99.0 L600.8 98.7 L601.0 98.0 L601.3 97.9 L601.5 98.1 L601.8 97.5 L602.1 97.0 L602.3 96.8 L602.6 96.7 L602.8 96.1 L603.1 96.1 L603.3 95.6 L603.6 95.2 L603.8 95.3 L604.1 94.1 L604.3 94.3 L604.6 94.3 L604.8 93.8 L605.1 93.7 L605.3 93.4 L605.6 93.2 L605.9 93.8 L606.1 93.2 L606.4 92.8 L606.6 93.0 L606.9 92.5 L607.1 92.6 L607.4 92.3 L607.6 92.5 L607.9 91.7 L608.1 92.0 L608.4 91.7 L608.6 91.3 L608.9 91.7 L609.2 91.2 L609.4 91.6 L609.7 91.3 L609.9 91.2 L610.2 91.0 L610.4 91.1 L610.7 90.4 L610.9 90.7 L611.2 90.5 L611.4 90.6 L611.7 90.5 L611.9 90.5 L612.2 90.1 L612.5 90.7 L612.7 90.7 L613.0 90.1 L613.2 90.1 L613.5 90.1 L613.7 90.2 L614.0 90.3 L614.2 89.6 L614.5 89.7 L614.7 89.5 L615.0 89.4 L615.2 89.3 L615.5 89.7 L615.8 89.3 L616.0 89.8 L616.3 89.7 L616.5 89.2 L616.8 89.2 L617.0 89.2 L617.3 89.6 L617.5 89.1 L617.8 88.9 L618.0 89.2 L618.3 89.3 L618.5 89.0 L618.8 89.5 L619.0 89.1 L619.3 89.2 L619.6 88.8 L619.8 89.0 L620.1 89.0 L620.3 88.5 L620.6 89.0 L620.8 88.5 L621.1 88.9 L621.3 88.5 L621.6 89.3 L621.8 88.9 L622.1 89.0 L622.3 89.0 L622.6 88.5 L622.9 88.2 L623.1 88.7 L623.4 88.9 L623.6 88.7 L623.9 88.9 L624.1 88.9 L624.4 88.3 L624.6 88.7 L624.9 89.0 L625.1 88.5 L625.4 88.1 L625.6 88.5 L625.9 88.5 L626.2 88.6 L626.4 88.3 L626.7 88.5 L626.9 88.0 L627.2 88.7 L627.4 88.8 L627.7 88.8 L627.9 88.1 L628.2 88.5 L628.4 87.8 L628.7 88.5 L628.9 88.4 L629.2 88.2 L629.5 88.5 L629.7 88.4 L630.0 88.6 L630.2 88.4 L630.5 88.4 L630.7 87.9 L631.0 88.1 L631.2 88.3 L631.5 88.4 L631.7 88.3 L632.0 88.7 L632.2 88.1 L632.5 88.3 L632.7 88.4 L633.0 88.3 L633.3 88.4 L633.5 88.2 L633.8 88.6 L634.0 88.2 L634.3 88.5 L634.5 88.3 L634.8 88.6 L635.0 88.0 L635.3 88.4 L635.5 88.2 L635.8 88.3 L636.0 88.5 L636.3 88.0 L636.6 88.0 L636.8 88.0 L637.1 88.3 L637.3 87.8 L637.6 88.3 L637.8 88.0 L638.1 88.0 L638.3 88.2 L638.6 88.3 L638.8 88.1 L639.1 88.1 L639.3 88.2 L639.6 88.2 L639.9 87.6 L640.1 88.1 L640.4 88.2 L640.6 88.5 L640.9 88.7 L641.1 88.4 L641.4 88.2 L641.6 88.0 L641.9 88.2 L642.1 88.4 L642.4 88.5 L642.6 88.0 L642.9 88.3 L643.2 88.4 L643.4 88.6 L643.7 88.3 L643.9 88.1 L644.2 88.0 L644.4 88.1 L644.7 88.1 L644.9 88.4 L645.2 88.4 L645.4 88.4 L645.7 88.5 L645.9 88.1 L646.2 88.3 L646.4 88.1 L646.7 88.2 L647.0 88.5 L647.2 88.2 L647.5 87.8 L647.7 88.1 L648.0 88.0 L648.2 87.9 L648.5 88.0 L648.7 88.4 L649.0 88.6 L649.2 88.1 L649.5 88.4 L649.7 88.5 L650.0 87.9 L650.3 88.2 L650.5 88.2 L650.8 88.2 L651.0 87.9 L651.3 88.1 L651.5 88.4 L651.8 88.5 L652.0 88.6 L652.3 88.1 L652.5 88.6 L652.8 88.4 L653.0 87.9 L653.3 88.4 L653.6 88.1 L653.8 88.3 L654.1 88.2 L654.3 88.5 L654.6 88.3 L654.8 88.2 L655.1 88.4 L655.3 88.3 L655.6 88.1 L655.8 88.5 L656.1 88.1 L656.3 88.1 L656.6 88.1 L656.9 87.9 L657.1 88.1 L657.4 88.6 L657.6 88.0 L657.9 88.2 L658.1 88.0 L658.4 88.1 L658.6 88.6 L658.9 88.4 L659.1 88.1 L659.4 88.3 L659.6 88.1 L659.9 88.1 L660.1 88.1 L660.4 88.1 L660.7 88.3 L660.9 88.4 L661.2 88.4 L661.4 88.2 L661.7 88.0 L661.9 88.3 L662.2 88.1 L662.4 88.5 L662.7 88.4 L662.9 88.4 L663.2 88.2 L663.4 87.9 L663.7 88.5 L664.0 88.6 L664.2 88.0 L664.5 88.3 L664.7 88.6 L665.0 88.1 L665.2 88.7 L665.5 88.2 L665.7 88.1 L666.0 88.6 L666.2 88.4 L666.5 88.2 L666.7 88.5 L667.0 87.9" fill="none" stroke="#aac6fd" stroke-width="1.40" stroke-linejoin="round"/><path d="M540.4 94.8 L540.7 93.6 L540.9 94.1 L541.2 93.8 L541.4 94.2 L541.7 94.4 L541.9 93.7 L542.2 94.4 L542.4 93.9 L542.7 93.8 L542.9 94.0 L543.2 93.6 L543.4 93.7 L543.7 94.5 L544.0 94.0 L544.2 94.6 L544.5 94.3 L544.7 93.7 L545.0 93.3 L545.2 93.8 L545.5 94.3 L545.7 94.2 L546.0 93.8 L546.2 94.6 L546.5 93.4 L546.7 93.6 L547.0 94.3 L547.3 95.2 L547.5 94.4 L547.8 93.8 L548.0 94.5 L548.3 94.5 L548.5 94.7 L548.8 94.1 L549.0 93.9 L549.3 94.3 L549.5 94.5 L549.8 95.0 L550.0 95.2 L550.3 94.0 L550.5 94.1 L550.8 94.3 L551.1 94.2 L551.3 94.6 L551.6 94.6 L551.8 94.5 L552.1 95.0 L552.3 94.3 L552.6 94.0 L552.8 93.7 L553.1 94.0 L553.3 94.0 L553.6 93.6 L553.8 94.8 L554.1 94.6 L554.4 94.3 L554.6 94.1 L554.9 93.8 L555.1 94.1 L555.4 95.4 L555.6 93.6 L555.9 94.6 L556.1 94.9 L556.4 94.7 L556.6 94.5 L556.9 95.0 L557.1 94.2 L557.4 94.9 L557.7 95.3 L557.9 94.2 L558.2 94.3 L558.4 94.8 L558.7 95.2 L558.9 95.3 L559.2 95.1 L559.4 94.5 L559.7 94.3 L559.9 94.9 L560.2 95.0 L560.4 94.4 L560.7 94.9 L561.0 95.0 L561.2 95.4 L561.5 94.5 L561.7 95.2 L562.0 94.4 L562.2 94.8 L562.5 95.0 L562.7 95.7 L563.0 96.5 L563.2 95.2 L563.5 95.3 L563.7 95.5 L564.0 94.5 L564.2 95.5 L564.5 94.6 L564.8 95.9 L565.0 95.9 L565.3 95.5 L565.5 94.9 L565.8 96.0 L566.0 95.4 L566.3 95.4 L566.5 95.6 L566.8 94.6 L567.0 95.6 L567.3 95.9 L567.5 95.6 L567.8 95.6 L568.1 95.1 L568.3 95.9 L568.6 95.7 L568.8 95.6 L569.1 95.4 L569.3 96.1 L569.6 96.3 L569.8 95.9 L570.1 96.2 L570.3 96.4 L570.6 96.6 L570.8 96.0 L571.1 95.9 L571.4 95.8 L571.6 96.1 L571.9 96.3 L572.1 96.6 L572.4 96.0 L572.6 96.3 L572.9 95.8 L573.1 96.9 L573.4 96.2 L573.6 96.6 L573.9 96.2 L574.1 96.4 L574.4 96.3 L574.7 97.4 L574.9 96.9 L575.2 96.7 L575.4 96.4 L575.7 96.7 L575.9 97.2 L576.2 97.8 L576.4 96.5 L576.7 96.8 L576.9 97.2 L577.2 97.1 L577.4 96.7 L577.7 97.6 L577.9 98.0 L578.2 97.0 L578.5 97.9 L578.7 98.4 L579.0 98.5 L579.2 98.0 L579.5 99.3 L579.7 98.6 L580.0 98.1 L580.2 99.0 L580.5 98.3 L580.7 99.3 L581.0 98.5 L581.2 99.5 L581.5 99.1 L581.8 100.0 L582.0 100.0 L582.3 100.0 L582.5 100.0 L582.8 100.6 L583.0 99.6 L583.3 100.7 L583.5 100.9 L583.8 101.2 L584.0 101.6 L584.3 103.1 L584.5 101.7 L584.8 102.3 L585.1 102.3 L585.3 103.2 L585.6 101.9 L585.8 103.8 L586.1 103.1 L586.3 102.7 L586.6 103.6 L586.8 104.3 L587.1 104.8 L587.3 105.1 L587.6 105.9 L587.8 105.9 L588.1 106.3 L588.4 105.9 L588.6 107.5 L588.9 108.2 L589.1 108.0 L589.4 107.9 L589.6 108.6 L589.9 110.4 L590.1 109.9 L590.4 110.4 L590.6 110.9 L590.9 112.0 L591.1 112.0 L591.4 112.3 L591.6 112.5 L591.9 113.6 L592.2 114.5 L592.4 114.4 L592.7 115.2 L592.9 115.2 L593.2 115.5 L593.4 115.7 L593.7 115.8 L593.9 116.4 L594.2 116.1 L594.4 115.7 L594.7 115.9 L594.9 115.7 L595.2 115.7 L595.5 115.3 L595.7 115.1 L596.0 114.0 L596.2 114.4 L596.5 114.4 L596.7 112.8 L597.0 113.7 L597.2 112.6 L597.5 111.9 L597.7 110.7 L598.0 111.5 L598.2 110.1 L598.5 109.8 L598.8 109.8 L599.0 108.6 L599.3 108.2 L599.5 107.7 L599.8 107.7 L600.0 107.6 L600.3 107.1 L600.5 106.6 L600.8 105.9 L601.0 105.8 L601.3 105.0 L601.5 105.8 L601.8 104.7 L602.1 103.4 L602.3 103.5 L602.6 104.4 L602.8 102.8 L603.1 102.9 L603.3 103.0 L603.6 102.1 L603.8 102.8 L604.1 102.8 L604.3 101.5 L604.6 102.1 L604.8 101.0 L605.1 100.7 L605.3 101.1 L605.6 100.9 L605.9 100.4 L606.1 100.8 L606.4 99.6 L606.6 99.7 L606.9 99.5 L607.1 100.1 L607.4 100.0 L607.6 99.8 L607.9 98.8 L608.1 99.3 L608.4 99.3 L608.6 98.3 L608.9 98.6 L609.2 99.1 L609.4 99.0 L609.7 98.7 L609.9 98.7 L610.2 98.6 L610.4 98.4 L610.7 98.2 L610.9 97.8 L611.2 98.0 L611.4 97.8 L611.7 98.9 L611.9 98.0 L612.2 97.8 L612.5 97.6 L612.7 97.6 L613.0 97.5 L613.2 97.8 L613.5 97.4 L613.7 97.8 L614.0 97.0 L614.2 97.4 L614.5 97.6 L614.7 96.7 L615.0 97.2 L615.2 97.2 L615.5 96.9 L615.8 96.8 L616.0 96.2 L616.3 97.4 L616.5 96.5 L616.8 96.3 L617.0 97.1 L617.3 96.0 L617.5 97.2 L617.8 96.9 L618.0 96.9 L618.3 96.6 L618.5 96.1 L618.8 95.8 L619.0 97.2 L619.3 96.3 L619.6 96.3 L619.8 97.2 L620.1 96.2 L620.3 96.3 L620.6 96.3 L620.8 96.3 L621.1 95.9 L621.3 96.1 L621.6 96.9 L621.8 96.6 L622.1 95.0 L622.3 95.4 L622.6 96.4 L622.9 96.2 L623.1 96.0 L623.4 96.6 L623.6 95.4 L623.9 96.7 L624.1 96.2 L624.4 96.4 L624.6 96.2 L624.9 96.5 L625.1 96.0 L625.4 95.8 L625.6 96.4 L625.9 96.1 L626.2 95.5 L626.4 96.6 L626.7 96.5 L626.9 96.6 L627.2 96.0 L627.4 96.1 L627.7 95.8 L627.9 95.5 L628.2 96.0 L628.4 96.0 L628.7 95.6 L628.9 96.7 L629.2 95.2 L629.5 95.5 L629.7 95.6 L630.0 96.5 L630.2 95.8 L630.5 95.7 L630.7 95.5 L631.0 95.5 L631.2 95.3 L631.5 96.3 L631.7 96.1 L632.0 96.3 L632.2 95.5 L632.5 96.9 L632.7 95.4 L633.0 94.9 L633.3 95.7 L633.5 95.9 L633.8 96.1 L634.0 95.3 L634.3 96.0 L634.5 96.5 L634.8 95.4 L635.0 95.4 L635.3 95.0 L635.5 95.9 L635.8 96.1 L636.0 96.1 L636.3 96.1 L636.6 96.4 L636.8 95.8 L637.1 96.2 L637.3 95.3 L637.6 95.4 L637.8 95.8 L638.1 95.4 L638.3 96.0 L638.6 96.3 L638.8 95.9 L639.1 95.4 L639.3 95.4 L639.6 96.3 L639.9 95.4 L640.1 95.7 L640.4 95.6 L640.6 95.7 L640.9 96.2 L641.1 95.5 L641.4 95.1 L641.6 96.3 L641.9 95.8 L642.1 96.0 L642.4 95.7 L642.6 96.0 L642.9 96.3 L643.2 96.3 L643.4 95.6 L643.7 95.5 L643.9 95.9 L644.2 95.8 L644.4 95.9 L644.7 95.4 L644.9 94.7 L645.2 95.9 L645.4 96.0 L645.7 96.0 L645.9 96.4 L646.2 96.1 L646.4 95.5 L646.7 96.1 L647.0 95.7 L647.2 96.2 L647.5 95.8 L647.7 95.9 L648.0 95.8 L648.2 95.7 L648.5 95.0 L648.7 95.7 L649.0 94.7 L649.2 95.9 L649.5 96.1 L649.7 96.6 L650.0 95.9 L650.3 95.4 L650.5 95.0 L650.8 96.6 L651.0 95.1 L651.3 96.1 L651.5 94.7 L651.8 95.7 L652.0 96.0 L652.3 95.8 L652.5 95.7 L652.8 95.3 L653.0 95.3 L653.3 96.2 L653.6 95.9 L653.8 95.6 L654.1 95.8 L654.3 95.3 L654.6 96.2 L654.8 96.3 L655.1 95.4 L655.3 95.8 L655.6 96.2 L655.8 95.4 L656.1 96.6 L656.3 96.4 L656.6 95.6 L656.9 96.2 L657.1 96.5 L657.4 95.2 L657.6 96.0 L657.9 95.7 L658.1 95.6 L658.4 96.1 L658.6 95.5 L658.9 95.1 L659.1 95.1 L659.4 95.7 L659.6 96.0 L659.9 95.7 L660.1 95.7 L660.4 95.7 L660.7 96.3 L660.9 96.0 L661.2 95.4 L661.4 95.6 L661.7 96.3 L661.9 95.5 L662.2 95.6 L662.4 95.8 L662.7 95.3 L662.9 96.2 L663.2 94.8 L663.4 96.4 L663.7 95.6 L664.0 95.2 L664.2 95.9 L664.5 95.0 L664.7 96.0 L665.0 96.1 L665.2 95.5 L665.5 95.6 L665.7 96.2 L666.0 95.5 L666.2 95.8 L666.5 96.0 L666.7 96.5 L667.0 95.6" fill="none" stroke="#92b4fe" stroke-width="1.62" stroke-linejoin="round"/><path d="M540.4 100.9 L540.7 101.6 L540.9 99.2 L541.2 100.7 L541.4 99.6 L541.7 99.7 L541.9 102.2 L542.2 101.1 L542.4 101.9 L542.7 100.8 L542.9 101.3 L543.2 100.7 L543.4 100.6 L543.7 100.9 L544.0 101.1 L544.2 102.0 L544.5 100.9 L544.7 101.3 L545.0 100.8 L545.2 101.1 L545.5 100.2 L545.7 101.8 L546.0 100.7 L546.2 101.1 L546.5 100.9 L546.7 101.7 L547.0 101.4 L547.3 101.1 L547.5 101.2 L547.8 101.3 L548.0 101.6 L548.3 101.5 L548.5 102.0 L548.8 102.2 L549.0 101.6 L549.3 100.3 L549.5 102.3 L549.8 102.6 L550.0 101.0 L550.3 100.9 L550.5 99.9 L550.8 101.7 L551.1 100.6 L551.3 102.5 L551.6 99.6 L551.8 101.3 L552.1 101.7 L552.3 101.0 L552.6 100.8 L552.8 101.5 L553.1 101.0 L553.3 101.1 L553.6 101.3 L553.8 101.0 L554.1 101.2 L554.4 101.9 L554.6 101.1 L554.9 101.5 L555.1 100.9 L555.4 102.0 L555.6 100.6 L555.9 102.1 L556.1 99.5 L556.4 100.9 L556.6 100.5 L556.9 102.2 L557.1 101.7 L557.4 100.7 L557.7 101.2 L557.9 102.5 L558.2 101.5 L558.4 102.0 L558.7 100.6 L558.9 100.6 L559.2 102.0 L559.4 103.2 L559.7 101.3 L559.9 102.1 L560.2 101.1 L560.4 102.5 L560.7 101.4 L561.0 101.5 L561.2 100.5 L561.5 101.5 L561.7 101.9 L562.0 102.7 L562.2 101.1 L562.5 102.5 L562.7 101.7 L563.0 101.7 L563.2 101.3 L563.5 100.8 L563.7 101.2 L564.0 103.0 L564.2 101.2 L564.5 101.7 L564.8 102.8 L565.0 100.7 L565.3 102.4 L565.5 101.8 L565.8 102.3 L566.0 102.7 L566.3 102.1 L566.5 102.1 L566.8 102.7 L567.0 102.7 L567.3 101.8 L567.5 102.2 L567.8 101.5 L568.1 103.2 L568.3 101.6 L568.6 102.6 L568.8 103.6 L569.1 103.0 L569.3 102.3 L569.6 102.1 L569.8 102.2 L570.1 103.2 L570.3 102.9 L570.6 102.7 L570.8 104.5 L571.1 102.2 L571.4 102.5 L571.6 102.6 L571.9 103.1 L572.1 103.2 L572.4 102.8 L572.6 103.5 L572.9 103.5 L573.1 103.0 L573.4 101.6 L573.6 103.8 L573.9 102.7 L574.1 102.9 L574.4 103.3 L574.7 102.6 L574.9 103.0 L575.2 103.6 L575.4 103.4 L575.7 103.9 L575.9 103.2 L576.2 103.7 L576.4 103.2 L576.7 103.8 L576.9 104.2 L577.2 104.0 L577.4 103.3 L577.7 104.2 L577.9 104.5 L578.2 105.2 L578.5 104.5 L578.7 104.4 L579.0 104.0 L579.2 106.2 L579.5 104.3 L579.7 104.3 L580.0 105.1 L580.2 104.1 L580.5 106.2 L580.7 105.7 L581.0 106.0 L581.2 105.2 L581.5 105.7 L581.8 106.7 L582.0 106.9 L582.3 108.3 L582.5 107.4 L582.8 105.6 L583.0 107.0 L583.3 106.9 L583.5 108.1 L583.8 107.5 L584.0 108.1 L584.3 107.8 L584.5 108.6 L584.8 109.4 L585.1 108.3 L585.3 107.6 L585.6 108.6 L585.8 110.6 L586.1 110.0 L586.3 109.9 L586.6 109.8 L586.8 111.5 L587.1 111.3 L587.3 111.4 L587.6 111.5 L587.8 112.1 L588.1 112.4 L588.4 113.4 L588.6 114.3 L588.9 112.6 L589.1 113.3 L589.4 114.7 L589.6 115.3 L589.9 114.6 L590.1 115.7 L590.4 116.4 L590.6 116.8 L590.9 117.3 L591.1 118.0 L591.4 119.1 L591.6 119.4 L591.9 119.8 L592.2 120.0 L592.4 119.7 L592.7 120.2 L592.9 121.3 L593.2 121.2 L593.4 121.9 L593.7 121.7 L593.9 121.8 L594.2 122.1 L594.4 120.8 L594.7 121.7 L594.9 121.3 L595.2 122.1 L595.5 120.9 L595.7 121.3 L596.0 120.5 L596.2 120.8 L596.5 120.6 L596.7 119.6 L597.0 119.4 L597.2 119.0 L597.5 119.0 L597.7 117.8 L598.0 117.6 L598.2 116.8 L598.5 116.0 L598.8 116.3 L599.0 116.0 L599.3 114.7 L599.5 115.9 L599.8 113.9 L600.0 114.5 L600.3 113.8 L600.5 112.0 L600.8 112.7 L601.0 111.3 L601.3 112.0 L601.5 112.1 L601.8 112.6 L602.1 111.5 L602.3 109.7 L602.6 110.2 L602.8 111.1 L603.1 109.9 L603.3 110.7 L603.6 108.8 L603.8 108.7 L604.1 107.9 L604.3 108.3 L604.6 109.2 L604.8 107.5 L605.1 108.5 L605.3 108.0 L605.6 108.1 L605.9 107.2 L606.1 107.2 L606.4 108.4 L606.6 106.0 L606.9 107.2 L607.1 107.6 L607.4 106.7 L607.6 107.4 L607.9 104.2 L608.1 105.8 L608.4 105.1 L608.6 105.5 L608.9 105.6 L609.2 105.9 L609.4 104.9 L609.7 105.9 L609.9 104.2 L610.2 105.8 L610.4 104.9 L610.7 103.8 L610.9 103.7 L611.2 103.7 L611.4 104.1 L611.7 104.8 L611.9 105.5 L612.2 105.1 L612.5 103.6 L612.7 102.9 L613.0 104.1 L613.2 103.3 L613.5 104.1 L613.7 103.7 L614.0 105.8 L614.2 102.9 L614.5 104.2 L614.7 105.2 L615.0 103.6 L615.2 103.3 L615.5 104.9 L615.8 102.4 L616.0 102.6 L616.3 102.9 L616.5 103.9 L616.8 104.1 L617.0 103.5 L617.3 105.0 L617.5 103.4 L617.8 103.5 L618.0 103.3 L618.3 104.2 L618.5 103.4 L618.8 103.1 L619.0 104.5 L619.3 104.2 L619.6 104.0 L619.8 102.4 L620.1 102.5 L620.3 103.1 L620.6 103.0 L620.8 102.9 L621.1 103.0 L621.3 103.6 L621.6 102.5 L621.8 103.3 L622.1 102.8 L622.3 102.8 L622.6 102.9 L622.9 103.5 L623.1 103.2 L623.4 102.5 L623.6 103.2 L623.9 103.1 L624.1 103.3 L624.4 102.8 L624.6 103.6 L624.9 103.2 L625.1 102.2 L625.4 102.1 L625.6 102.0 L625.9 103.2 L626.2 102.4 L626.4 102.6 L626.7 102.8 L626.9 103.7 L627.2 104.3 L627.4 102.8 L627.7 104.2 L627.9 103.2 L628.2 103.6 L628.4 102.6 L628.7 102.0 L628.9 103.1 L629.2 103.6 L629.5 101.7 L629.7 102.7 L630.0 102.9 L630.2 103.1 L630.5 102.0 L630.7 102.4 L631.0 103.3 L631.2 103.9 L631.5 102.8 L631.7 103.4 L632.0 102.8 L632.2 103.0 L632.5 102.4 L632.7 102.5 L633.0 102.3 L633.3 102.7 L633.5 103.4 L633.8 102.8 L634.0 103.1 L634.3 102.2 L634.5 103.1 L634.8 100.6 L635.0 101.7 L635.3 102.4 L635.5 101.4 L635.8 103.0 L636.0 102.8 L636.3 102.0 L636.6 102.7 L636.8 101.6 L637.1 102.0 L637.3 102.4 L637.6 101.5 L637.8 103.3 L638.1 102.2 L638.3 103.3 L638.6 102.5 L638.8 102.8 L639.1 102.0 L639.3 102.4 L639.6 102.3 L639.9 102.8 L640.1 103.5 L640.4 102.2 L640.6 102.5 L640.9 102.8 L641.1 103.2 L641.4 102.5 L641.6 102.3 L641.9 102.2 L642.1 102.6 L642.4 102.7 L642.6 102.1 L642.9 102.4 L643.2 103.1 L643.4 102.6 L643.7 102.2 L643.9 103.1 L644.2 103.1 L644.4 103.0 L644.7 103.0 L644.9 102.3 L645.2 102.7 L645.4 102.8 L645.7 102.7 L645.9 101.4 L646.2 102.6 L646.4 102.8 L646.7 102.9 L647.0 102.4 L647.2 102.6 L647.5 101.4 L647.7 101.6 L648.0 100.6 L648.2 102.4 L648.5 103.7 L648.7 103.7 L649.0 101.8 L649.2 103.0 L649.5 103.4 L649.7 102.4 L650.0 101.3 L650.3 103.5 L650.5 102.4 L650.8 102.3 L651.0 103.7 L651.3 102.9 L651.5 103.2 L651.8 103.7 L652.0 102.5 L652.3 102.0 L652.5 103.1 L652.8 102.6 L653.0 103.1 L653.3 102.9 L653.6 102.1 L653.8 102.6 L654.1 102.4 L654.3 102.5 L654.6 102.6 L654.8 102.9 L655.1 102.8 L655.3 101.8 L655.6 103.1 L655.8 101.7 L656.1 104.1 L656.3 102.1 L656.6 102.6 L656.9 103.5 L657.1 102.5 L657.4 101.8 L657.6 101.7 L657.9 102.8 L658.1 102.9 L658.4 103.2 L658.6 102.8 L658.9 102.3 L659.1 103.0 L659.4 103.6 L659.6 102.1 L659.9 105.0 L660.1 102.4 L660.4 103.5 L660.7 103.9 L660.9 103.3 L661.2 102.9 L661.4 103.2 L661.7 103.6 L661.9 100.9 L662.2 103.0 L662.4 102.4 L662.7 102.2 L662.9 102.8 L663.2 102.8 L663.4 103.0 L663.7 102.3 L664.0 103.4 L664.2 101.3 L664.5 102.1 L664.7 101.9 L665.0 102.8 L665.2 102.4 L665.5 103.1 L665.7 102.2 L666.0 103.6 L666.2 103.2 L666.5 102.4 L666.7 101.6 L667.0 101.9" fill="none" stroke="#7b9ef8" stroke-width="1.84" stroke-linejoin="round"/><path d="M540.4 106.7 L540.7 109.2 L540.9 108.7 L541.2 107.0 L541.4 109.8 L541.7 107.8 L541.9 106.1 L542.2 109.1 L542.4 109.3 L542.7 108.1 L542.9 107.4 L543.2 109.2 L543.4 107.7 L543.7 108.2 L544.0 108.6 L544.2 108.5 L544.5 107.8 L544.7 107.3 L545.0 108.9 L545.2 106.3 L545.5 108.5 L545.7 108.5 L546.0 108.7 L546.2 107.9 L546.5 108.5 L546.7 109.0 L547.0 107.4 L547.3 108.3 L547.5 108.6 L547.8 107.2 L548.0 107.5 L548.3 109.7 L548.5 109.2 L548.8 107.7 L549.0 109.0 L549.3 108.7 L549.5 109.6 L549.8 109.4 L550.0 106.3 L550.3 108.1 L550.5 109.6 L550.8 109.9 L551.1 107.9 L551.3 107.4 L551.6 108.7 L551.8 107.9 L552.1 108.5 L552.3 107.5 L552.6 109.2 L552.8 109.0 L553.1 108.9 L553.3 107.6 L553.6 107.1 L553.8 107.4 L554.1 109.0 L554.4 107.0 L554.6 109.2 L554.9 110.2 L555.1 108.1 L555.4 108.5 L555.6 109.5 L555.9 109.5 L556.1 108.1 L556.4 108.5 L556.6 108.8 L556.9 108.5 L557.1 109.2 L557.4 109.0 L557.7 109.9 L557.9 107.3 L558.2 109.8 L558.4 109.5 L558.7 108.7 L558.9 109.2 L559.2 109.7 L559.4 109.1 L559.7 108.7 L559.9 109.1 L560.2 108.3 L560.4 107.8 L560.7 108.2 L561.0 108.3 L561.2 109.1 L561.5 109.7 L561.7 109.2 L562.0 110.3 L562.2 109.0 L562.5 108.5 L562.7 108.4 L563.0 108.3 L563.2 108.9 L563.5 110.4 L563.7 107.9 L564.0 109.7 L564.2 109.2 L564.5 110.0 L564.8 108.8 L565.0 109.9 L565.3 108.9 L565.5 109.9 L565.8 107.6 L566.0 109.8 L566.3 110.1 L566.5 108.0 L566.8 110.2 L567.0 108.5 L567.3 110.4 L567.5 109.6 L567.8 110.2 L568.1 109.9 L568.3 108.6 L568.6 111.0 L568.8 110.8 L569.1 108.8 L569.3 110.3 L569.6 110.2 L569.8 109.3 L570.1 109.0 L570.3 111.1 L570.6 109.6 L570.8 110.8 L571.1 111.7 L571.4 110.5 L571.6 109.3 L571.9 111.0 L572.1 109.0 L572.4 109.5 L572.6 112.9 L572.9 109.6 L573.1 110.7 L573.4 109.5 L573.6 110.4 L573.9 110.7 L574.1 108.3 L574.4 110.1 L574.7 111.3 L574.9 111.5 L575.2 111.1 L575.4 110.0 L575.7 111.3 L575.9 110.6 L576.2 110.4 L576.4 111.1 L576.7 113.2 L576.9 110.5 L577.2 112.3 L577.4 111.7 L577.7 110.2 L577.9 110.8 L578.2 111.5 L578.5 111.4 L578.7 112.1 L579.0 111.1 L579.2 111.2 L579.5 113.1 L579.7 112.2 L580.0 111.6 L580.2 112.5 L580.5 114.2 L580.7 112.2 L581.0 111.6 L581.2 113.8 L581.5 114.9 L581.8 114.4 L582.0 112.3 L582.3 111.8 L582.5 114.9 L582.8 113.7 L583.0 114.5 L583.3 114.1 L583.5 115.9 L583.8 114.7 L584.0 114.6 L584.3 115.2 L584.5 114.2 L584.8 115.6 L585.1 115.6 L585.3 114.1 L585.6 115.2 L585.8 115.4 L586.1 115.4 L586.3 117.4 L586.6 118.3 L586.8 117.9 L587.1 116.7 L587.3 116.7 L587.6 119.3 L587.8 118.7 L588.1 119.3 L588.4 118.6 L588.6 118.3 L588.9 122.5 L589.1 120.4 L589.4 121.2 L589.6 120.8 L589.9 123.5 L590.1 122.3 L590.4 122.9 L590.6 123.6 L590.9 123.9 L591.1 125.6 L591.4 123.2 L591.6 125.8 L591.9 125.1 L592.2 125.7 L592.4 125.9 L592.7 127.1 L592.9 125.9 L593.2 126.9 L593.4 128.0 L593.7 127.2 L593.9 127.5 L594.2 128.3 L594.4 128.1 L594.7 127.7 L594.9 128.0 L595.2 127.1 L595.5 128.4 L595.7 126.5 L596.0 125.8 L596.2 127.3 L596.5 125.5 L596.7 125.4 L597.0 125.7 L597.2 126.1 L597.5 124.7 L597.7 124.3 L598.0 123.9 L598.2 124.1 L598.5 122.9 L598.8 123.1 L599.0 123.7 L599.3 121.9 L599.5 121.3 L599.8 120.4 L600.0 120.2 L600.3 119.3 L600.5 119.1 L600.8 119.2 L601.0 119.6 L601.3 119.4 L601.5 118.2 L601.8 118.6 L602.1 116.8 L602.3 119.5 L602.6 119.5 L602.8 117.0 L603.1 117.2 L603.3 116.6 L603.6 117.0 L603.8 115.5 L604.1 114.5 L604.3 116.3 L604.6 114.4 L604.8 115.5 L605.1 114.2 L605.3 114.1 L605.6 115.5 L605.9 115.8 L606.1 114.1 L606.4 113.7 L606.6 114.2 L606.9 113.3 L607.1 112.1 L607.4 113.5 L607.6 111.4 L607.9 113.6 L608.1 112.7 L608.4 113.2 L608.6 111.6 L608.9 112.1 L609.2 113.2 L609.4 113.8 L609.7 113.2 L609.9 112.7 L610.2 111.3 L610.4 112.7 L610.7 112.2 L610.9 111.8 L611.2 113.1 L611.4 111.2 L611.7 113.4 L611.9 111.2 L612.2 111.1 L612.5 111.5 L612.7 110.4 L613.0 111.1 L613.2 111.5 L613.5 109.9 L613.7 110.6 L614.0 110.0 L614.2 110.8 L614.5 112.2 L614.7 110.7 L615.0 110.9 L615.2 111.2 L615.5 110.0 L615.8 111.1 L616.0 110.5 L616.3 110.3 L616.5 109.3 L616.8 110.2 L617.0 111.7 L617.3 111.8 L617.5 110.4 L617.8 110.7 L618.0 110.3 L618.3 109.6 L618.5 109.0 L618.8 112.0 L619.0 109.7 L619.3 110.7 L619.6 111.8 L619.8 110.1 L620.1 110.3 L620.3 110.6 L620.6 110.1 L620.8 110.6 L621.1 110.1 L621.3 111.3 L621.6 110.7 L621.8 109.3 L622.1 109.1 L622.3 109.7 L622.6 109.7 L622.9 109.6 L623.1 111.0 L623.4 109.6 L623.6 109.8 L623.9 110.3 L624.1 108.4 L624.4 110.5 L624.6 110.6 L624.9 111.4 L625.1 109.3 L625.4 109.7 L625.6 110.3 L625.9 109.8 L626.2 108.8 L626.4 110.9 L626.7 109.8 L626.9 110.3 L627.2 109.1 L627.4 110.9 L627.7 109.7 L627.9 109.4 L628.2 110.7 L628.4 111.0 L628.7 109.2 L628.9 110.8 L629.2 111.4 L629.5 110.2 L629.7 108.7 L630.0 110.4 L630.2 110.9 L630.5 109.0 L630.7 111.4 L631.0 109.7 L631.2 109.8 L631.5 110.9 L631.7 110.1 L632.0 111.0 L632.2 109.9 L632.5 110.2 L632.7 109.9 L633.0 110.1 L633.3 110.4 L633.5 110.3 L633.8 109.6 L634.0 110.7 L634.3 109.8 L634.5 110.9 L634.8 110.4 L635.0 109.8 L635.3 109.2 L635.5 109.9 L635.8 111.1 L636.0 110.0 L636.3 110.7 L636.6 109.7 L636.8 109.5 L637.1 109.2 L637.3 108.1 L637.6 110.1 L637.8 109.8 L638.1 109.8 L638.3 110.5 L638.6 108.9 L638.8 111.3 L639.1 108.5 L639.3 110.0 L639.6 108.7 L639.9 109.5 L640.1 110.8 L640.4 108.5 L640.6 109.9 L640.9 109.9 L641.1 109.9 L641.4 110.0 L641.6 110.5 L641.9 110.2 L642.1 110.1 L642.4 110.6 L642.6 110.4 L642.9 109.7 L643.2 108.7 L643.4 110.5 L643.7 109.5 L643.9 111.2 L644.2 109.3 L644.4 108.7 L644.7 110.8 L644.9 109.1 L645.2 108.4 L645.4 110.8 L645.7 108.5 L645.9 110.9 L646.2 108.9 L646.4 110.1 L646.7 110.0 L647.0 108.2 L647.2 109.7 L647.5 109.4 L647.7 109.9 L648.0 110.2 L648.2 111.2 L648.5 109.6 L648.7 109.7 L649.0 111.7 L649.2 110.4 L649.5 110.4 L649.7 108.4 L650.0 108.5 L650.3 109.3 L650.5 109.6 L650.8 110.2 L651.0 112.2 L651.3 108.7 L651.5 109.4 L651.8 110.3 L652.0 110.0 L652.3 110.8 L652.5 109.5 L652.8 109.0 L653.0 111.6 L653.3 110.2 L653.6 108.7 L653.8 109.5 L654.1 109.7 L654.3 108.5 L654.6 110.5 L654.8 109.9 L655.1 109.5 L655.3 109.2 L655.6 111.2 L655.8 109.7 L656.1 109.1 L656.3 108.0 L656.6 108.8 L656.9 110.4 L657.1 111.1 L657.4 108.8 L657.6 108.0 L657.9 109.8 L658.1 109.7 L658.4 110.5 L658.6 109.2 L658.9 109.9 L659.1 108.2 L659.4 108.7 L659.6 109.3 L659.9 109.4 L660.1 110.3 L660.4 110.9 L660.7 108.6 L660.9 111.3 L661.2 109.2 L661.4 109.4 L661.7 110.8 L661.9 107.7 L662.2 108.5 L662.4 109.1 L662.7 109.9 L662.9 110.8 L663.2 110.8 L663.4 109.0 L663.7 110.5 L664.0 109.5 L664.2 111.2 L664.5 109.6 L664.7 110.8 L665.0 109.0 L665.2 110.5 L665.5 108.7 L665.7 110.0 L666.0 108.4 L666.2 109.7 L666.5 109.2 L666.7 109.0 L667.0 110.1" fill="none" stroke="#6485eb" stroke-width="2.06" stroke-linejoin="round"/><path d="M540.4 116.4 L540.7 115.7 L540.9 115.9 L541.2 116.4 L541.4 116.9 L541.7 116.7 L541.9 116.0 L542.2 117.8 L542.4 115.0 L542.7 116.5 L542.9 114.4 L543.2 118.3 L543.4 115.4 L543.7 115.8 L544.0 117.2 L544.2 115.4 L544.5 114.7 L544.7 113.6 L545.0 115.4 L545.2 117.9 L545.5 115.9 L545.7 117.6 L546.0 116.6 L546.2 115.2 L546.5 114.2 L546.7 115.5 L547.0 116.4 L547.3 115.5 L547.5 115.9 L547.8 116.4 L548.0 115.4 L548.3 114.2 L548.5 115.4 L548.8 116.4 L549.0 114.9 L549.3 114.6 L549.5 114.7 L549.8 115.6 L550.0 115.7 L550.3 115.8 L550.5 114.4 L550.8 115.9 L551.1 115.2 L551.3 114.8 L551.6 113.8 L551.8 114.7 L552.1 115.2 L552.3 116.1 L552.6 116.4 L552.8 116.0 L553.1 116.2 L553.3 114.7 L553.6 116.8 L553.8 116.9 L554.1 116.7 L554.4 115.4 L554.6 115.9 L554.9 115.5 L555.1 114.6 L555.4 115.7 L555.6 114.3 L555.9 114.1 L556.1 116.7 L556.4 116.7 L556.6 117.0 L556.9 115.6 L557.1 116.2 L557.4 116.7 L557.7 115.8 L557.9 113.9 L558.2 118.7 L558.4 117.6 L558.7 117.6 L558.9 116.3 L559.2 115.4 L559.4 116.4 L559.7 116.6 L559.9 114.8 L560.2 115.8 L560.4 117.0 L560.7 118.0 L561.0 117.1 L561.2 116.0 L561.5 115.0 L561.7 118.7 L562.0 116.6 L562.2 117.3 L562.5 116.6 L562.7 115.1 L563.0 119.0 L563.2 117.3 L563.5 117.9 L563.7 115.8 L564.0 116.6 L564.2 118.2 L564.5 116.3 L564.8 115.9 L565.0 115.5 L565.3 115.3 L565.5 117.7 L565.8 116.7 L566.0 114.8 L566.3 118.5 L566.5 118.3 L566.8 118.2 L567.0 114.9 L567.3 117.1 L567.5 118.4 L567.8 115.9 L568.1 116.2 L568.3 116.8 L568.6 114.9 L568.8 117.4 L569.1 118.2 L569.3 117.9 L569.6 118.9 L569.8 117.4 L570.1 117.3 L570.3 117.1 L570.6 116.6 L570.8 116.2 L571.1 116.6 L571.4 117.4 L571.6 116.9 L571.9 117.7 L572.1 117.7 L572.4 118.3 L572.6 117.1 L572.9 115.4 L573.1 116.7 L573.4 119.9 L573.6 118.7 L573.9 117.5 L574.1 117.7 L574.4 117.9 L574.7 117.6 L574.9 118.4 L575.2 119.0 L575.4 119.6 L575.7 117.9 L575.9 118.1 L576.2 118.1 L576.4 118.6 L576.7 119.8 L576.9 117.8 L577.2 121.2 L577.4 119.4 L577.7 120.1 L577.9 118.0 L578.2 118.7 L578.5 118.6 L578.7 119.3 L579.0 117.1 L579.2 120.0 L579.5 117.7 L579.7 120.1 L580.0 120.9 L580.2 119.8 L580.5 119.8 L580.7 119.9 L581.0 120.0 L581.2 120.7 L581.5 121.5 L581.8 121.4 L582.0 122.5 L582.3 121.1 L582.5 120.6 L582.8 120.8 L583.0 120.1 L583.3 121.2 L583.5 121.2 L583.8 124.0 L584.0 122.8 L584.3 124.4 L584.5 120.6 L584.8 123.2 L585.1 124.2 L585.3 123.7 L585.6 123.1 L585.8 124.0 L586.1 124.2 L586.3 124.6 L586.6 125.0 L586.8 126.0 L587.1 125.6 L587.3 126.0 L587.6 126.0 L587.8 126.8 L588.1 125.9 L588.4 127.7 L588.6 127.1 L588.9 128.7 L589.1 127.6 L589.4 128.5 L589.6 128.8 L589.9 128.3 L590.1 131.0 L590.4 130.7 L590.6 130.7 L590.9 132.5 L591.1 131.2 L591.4 131.9 L591.6 133.6 L591.9 135.4 L592.2 133.2 L592.4 135.2 L592.7 134.0 L592.9 133.2 L593.2 134.9 L593.4 135.9 L593.7 134.9 L593.9 135.4 L594.2 133.8 L594.4 132.5 L594.7 135.2 L594.9 133.3 L595.2 134.7 L595.5 133.9 L595.7 134.6 L596.0 135.1 L596.2 132.0 L596.5 133.4 L596.7 133.1 L597.0 134.3 L597.2 132.6 L597.5 131.2 L597.7 131.1 L598.0 133.3 L598.2 129.9 L598.5 130.5 L598.8 130.3 L599.0 128.4 L599.3 128.3 L599.5 126.7 L599.8 127.4 L600.0 128.8 L600.3 127.9 L600.5 125.2 L600.8 128.5 L601.0 125.1 L601.3 125.2 L601.5 127.7 L601.8 126.1 L602.1 125.2 L602.3 126.6 L602.6 124.6 L602.8 124.8 L603.1 123.5 L603.3 123.8 L603.6 123.6 L603.8 124.6 L604.1 122.5 L604.3 122.8 L604.6 120.4 L604.8 120.7 L605.1 123.1 L605.3 121.8 L605.6 121.6 L605.9 122.5 L606.1 121.3 L606.4 121.6 L606.6 121.1 L606.9 119.0 L607.1 121.7 L607.4 122.6 L607.6 122.1 L607.9 120.7 L608.1 120.8 L608.4 120.9 L608.6 122.0 L608.9 121.5 L609.2 119.7 L609.4 119.9 L609.7 119.7 L609.9 119.2 L610.2 119.1 L610.4 119.5 L610.7 116.9 L610.9 119.9 L611.2 118.9 L611.4 118.0 L611.7 119.0 L611.9 118.3 L612.2 120.4 L612.5 117.8 L612.7 119.0 L613.0 119.3 L613.2 117.9 L613.5 117.5 L613.7 119.2 L614.0 118.3 L614.2 117.6 L614.5 117.0 L614.7 119.2 L615.0 120.1 L615.2 117.9 L615.5 119.0 L615.8 119.6 L616.0 119.4 L616.3 117.7 L616.5 118.9 L616.8 119.0 L617.0 121.0 L617.3 118.4 L617.5 119.3 L617.8 119.0 L618.0 118.8 L618.3 117.0 L618.5 118.4 L618.8 119.7 L619.0 117.6 L619.3 118.3 L619.6 117.2 L619.8 118.3 L620.1 118.3 L620.3 118.7 L620.6 117.5 L620.8 117.4 L621.1 117.3 L621.3 118.2 L621.6 118.0 L621.8 120.2 L622.1 117.1 L622.3 118.5 L622.6 117.2 L622.9 117.3 L623.1 118.9 L623.4 118.2 L623.6 118.3 L623.9 116.3 L624.1 120.4 L624.4 119.9 L624.6 116.9 L624.9 116.2 L625.1 116.9 L625.4 117.9 L625.6 116.6 L625.9 117.9 L626.2 116.9 L626.4 120.5 L626.7 117.3 L626.9 117.1 L627.2 119.7 L627.4 117.9 L627.7 117.5 L627.9 117.5 L628.2 118.1 L628.4 117.0 L628.7 117.6 L628.9 116.9 L629.2 116.0 L629.5 117.1 L629.7 117.6 L630.0 119.1 L630.2 117.7 L630.5 117.1 L630.7 117.6 L631.0 118.0 L631.2 115.0 L631.5 117.0 L631.7 115.1 L632.0 115.5 L632.2 116.6 L632.5 117.2 L632.7 117.4 L633.0 117.5 L633.3 118.8 L633.5 117.8 L633.8 117.8 L634.0 117.0 L634.3 119.4 L634.5 118.7 L634.8 116.7 L635.0 116.7 L635.3 118.2 L635.5 118.4 L635.8 117.0 L636.0 118.5 L636.3 116.1 L636.6 117.2 L636.8 118.4 L637.1 116.7 L637.3 117.5 L637.6 117.3 L637.8 117.1 L638.1 115.3 L638.3 117.0 L638.6 117.5 L638.8 117.5 L639.1 118.1 L639.3 118.3 L639.6 117.0 L639.9 117.1 L640.1 119.1 L640.4 118.3 L640.6 117.4 L640.9 117.1 L641.1 118.5 L641.4 118.5 L641.6 117.2 L641.9 117.8 L642.1 117.4 L642.4 117.3 L642.6 119.3 L642.9 116.0 L643.2 118.1 L643.4 116.2 L643.7 116.6 L643.9 118.2 L644.2 115.9 L644.4 116.3 L644.7 116.1 L644.9 116.7 L645.2 117.6 L645.4 118.6 L645.7 116.6 L645.9 118.3 L646.2 116.0 L646.4 119.6 L646.7 116.8 L647.0 116.8 L647.2 117.6 L647.5 117.4 L647.7 117.1 L648.0 115.5 L648.2 118.2 L648.5 118.0 L648.7 116.8 L649.0 116.0 L649.2 117.5 L649.5 118.5 L649.7 115.4 L650.0 116.1 L650.3 117.4 L650.5 116.4 L650.8 116.9 L651.0 117.1 L651.3 118.1 L651.5 118.1 L651.8 118.3 L652.0 118.2 L652.3 116.6 L652.5 114.7 L652.8 117.6 L653.0 117.7 L653.3 117.7 L653.6 116.5 L653.8 119.3 L654.1 115.5 L654.3 118.1 L654.6 117.9 L654.8 118.3 L655.1 118.8 L655.3 117.8 L655.6 117.6 L655.8 117.0 L656.1 118.1 L656.3 117.7 L656.6 118.2 L656.9 116.1 L657.1 115.7 L657.4 117.4 L657.6 117.9 L657.9 115.7 L658.1 116.2 L658.4 116.9 L658.6 117.6 L658.9 117.7 L659.1 118.4 L659.4 117.1 L659.6 117.8 L659.9 118.7 L660.1 117.0 L660.4 119.8 L660.7 116.9 L660.9 117.5 L661.2 115.3 L661.4 117.3 L661.7 116.8 L661.9 116.7 L662.2 117.7 L662.4 116.2 L662.7 117.6 L662.9 115.2 L663.2 116.8 L663.4 118.8 L663.7 117.5 L664.0 118.0 L664.2 116.4 L664.5 116.0 L664.7 118.9 L665.0 118.5 L665.2 118.3 L665.5 117.4 L665.7 118.6 L666.0 116.9 L666.2 118.1 L666.5 118.1 L666.7 116.4 L667.0 118.9" fill="none" stroke="#4e69d8" stroke-width="2.28" stroke-linejoin="round"/><path d="M540.4 123.5 L540.7 124.4 L540.9 121.4 L541.2 121.9 L541.4 122.8 L541.7 124.1 L541.9 124.9 L542.2 123.9 L542.4 123.3 L542.7 124.2 L542.9 123.1 L543.2 123.7 L543.4 124.0 L543.7 122.6 L544.0 124.0 L544.2 121.6 L544.5 122.4 L544.7 124.3 L545.0 122.7 L545.2 124.1 L545.5 123.8 L545.7 123.3 L546.0 125.5 L546.2 124.2 L546.5 122.8 L546.7 122.9 L547.0 123.7 L547.3 121.7 L547.5 125.1 L547.8 123.5 L548.0 121.4 L548.3 122.3 L548.5 125.4 L548.8 123.9 L549.0 126.4 L549.3 123.7 L549.5 124.2 L549.8 126.2 L550.0 126.4 L550.3 122.5 L550.5 124.8 L550.8 122.3 L551.1 123.1 L551.3 121.5 L551.6 124.5 L551.8 122.4 L552.1 122.7 L552.3 126.2 L552.6 124.9 L552.8 123.6 L553.1 121.5 L553.3 124.2 L553.6 120.8 L553.8 122.6 L554.1 124.7 L554.4 124.9 L554.6 124.0 L554.9 124.9 L555.1 124.1 L555.4 122.9 L555.6 123.9 L555.9 126.1 L556.1 123.9 L556.4 124.3 L556.6 124.7 L556.9 122.2 L557.1 122.7 L557.4 122.0 L557.7 124.5 L557.9 123.5 L558.2 122.4 L558.4 122.4 L558.7 125.0 L558.9 125.1 L559.2 124.6 L559.4 124.1 L559.7 124.8 L559.9 124.1 L560.2 124.6 L560.4 123.6 L560.7 122.8 L561.0 123.2 L561.2 124.5 L561.5 126.4 L561.7 123.1 L562.0 122.8 L562.2 125.2 L562.5 125.2 L562.7 123.4 L563.0 123.5 L563.2 123.5 L563.5 124.8 L563.7 128.3 L564.0 123.4 L564.2 124.8 L564.5 123.8 L564.8 124.6 L565.0 125.0 L565.3 124.8 L565.5 123.2 L565.8 123.2 L566.0 125.7 L566.3 124.9 L566.5 124.8 L566.8 125.3 L567.0 123.6 L567.3 126.2 L567.5 123.6 L567.8 123.3 L568.1 123.4 L568.3 124.6 L568.6 128.2 L568.8 124.8 L569.1 125.2 L569.3 126.8 L569.6 124.4 L569.8 123.1 L570.1 124.1 L570.3 124.5 L570.6 122.9 L570.8 124.7 L571.1 125.2 L571.4 127.7 L571.6 126.1 L571.9 125.3 L572.1 124.5 L572.4 124.3 L572.6 122.9 L572.9 125.1 L573.1 122.4 L573.4 125.2 L573.6 127.6 L573.9 125.0 L574.1 126.1 L574.4 124.5 L574.7 123.2 L574.9 126.0 L575.2 125.4 L575.4 126.4 L575.7 126.0 L575.9 126.7 L576.2 125.4 L576.4 126.8 L576.7 127.4 L576.9 125.5 L577.2 125.9 L577.4 127.7 L577.7 127.1 L577.9 126.2 L578.2 124.6 L578.5 126.3 L578.7 128.7 L579.0 126.3 L579.2 126.7 L579.5 125.9 L579.7 127.0 L580.0 127.3 L580.2 127.8 L580.5 126.7 L580.7 126.2 L581.0 130.4 L581.2 128.1 L581.5 126.9 L581.8 127.9 L582.0 128.9 L582.3 129.8 L582.5 129.0 L582.8 128.3 L583.0 129.6 L583.3 127.3 L583.5 128.0 L583.8 131.0 L584.0 129.9 L584.3 129.8 L584.5 129.2 L584.8 128.8 L585.1 130.8 L585.3 130.8 L585.6 133.2 L585.8 130.1 L586.1 131.5 L586.3 131.3 L586.6 130.9 L586.8 134.6 L587.1 134.4 L587.3 133.1 L587.6 131.4 L587.8 133.9 L588.1 134.5 L588.4 133.4 L588.6 132.5 L588.9 137.3 L589.1 133.6 L589.4 137.1 L589.6 135.2 L589.9 136.0 L590.1 138.2 L590.4 135.8 L590.6 137.3 L590.9 138.0 L591.1 140.0 L591.4 140.2 L591.6 139.4 L591.9 138.0 L592.2 141.5 L592.4 139.7 L592.7 141.0 L592.9 138.5 L593.2 140.9 L593.4 142.0 L593.7 141.0 L593.9 142.4 L594.2 143.3 L594.4 143.8 L594.7 141.0 L594.9 139.7 L595.2 138.4 L595.5 141.0 L595.7 139.1 L596.0 141.6 L596.2 138.1 L596.5 141.9 L596.7 140.3 L597.0 137.8 L597.2 139.9 L597.5 139.9 L597.7 139.5 L598.0 138.4 L598.2 138.8 L598.5 138.3 L598.8 136.8 L599.0 136.9 L599.3 134.7 L599.5 137.0 L599.8 134.0 L600.0 135.0 L600.3 133.4 L600.5 135.8 L600.8 134.4 L601.0 132.5 L601.3 133.9 L601.5 132.9 L601.8 133.8 L602.1 132.7 L602.3 132.3 L602.6 131.7 L602.8 129.6 L603.1 132.1 L603.3 132.2 L603.6 129.8 L603.8 131.5 L604.1 132.1 L604.3 131.6 L604.6 131.9 L604.8 131.2 L605.1 129.3 L605.3 132.5 L605.6 129.6 L605.9 128.6 L606.1 131.1 L606.4 128.2 L606.6 130.1 L606.9 127.8 L607.1 130.2 L607.4 130.2 L607.6 127.9 L607.9 129.1 L608.1 129.2 L608.4 128.0 L608.6 128.7 L608.9 127.8 L609.2 127.0 L609.4 126.4 L609.7 128.0 L609.9 128.3 L610.2 128.6 L610.4 128.0 L610.7 128.2 L610.9 126.8 L611.2 129.5 L611.4 126.1 L611.7 128.1 L611.9 126.8 L612.2 126.6 L612.5 129.6 L612.7 127.6 L613.0 125.3 L613.2 127.2 L613.5 126.1 L613.7 129.1 L614.0 125.6 L614.2 126.7 L614.5 125.9 L614.7 125.7 L615.0 127.4 L615.2 127.8 L615.5 128.0 L615.8 126.2 L616.0 125.5 L616.3 126.9 L616.5 125.7 L616.8 128.2 L617.0 124.4 L617.3 126.7 L617.5 124.5 L617.8 124.8 L618.0 124.0 L618.3 124.3 L618.5 126.6 L618.8 125.0 L619.0 124.5 L619.3 124.3 L619.6 124.6 L619.8 125.2 L620.1 126.8 L620.3 125.7 L620.6 125.6 L620.8 125.5 L621.1 126.5 L621.3 124.4 L621.6 126.0 L621.8 124.1 L622.1 124.2 L622.3 126.3 L622.6 125.6 L622.9 125.2 L623.1 124.2 L623.4 126.0 L623.6 128.2 L623.9 126.2 L624.1 126.2 L624.4 125.3 L624.6 126.9 L624.9 124.9 L625.1 129.2 L625.4 125.7 L625.6 125.5 L625.9 127.0 L626.2 123.9 L626.4 124.5 L626.7 124.4 L626.9 125.1 L627.2 127.6 L627.4 124.1 L627.7 128.5 L627.9 126.6 L628.2 127.3 L628.4 125.6 L628.7 123.3 L628.9 123.7 L629.2 127.0 L629.5 124.9 L629.7 125.7 L630.0 125.6 L630.2 127.2 L630.5 126.9 L630.7 125.7 L631.0 125.4 L631.2 126.5 L631.5 123.9 L631.7 124.4 L632.0 123.6 L632.2 124.1 L632.5 123.3 L632.7 126.3 L633.0 124.9 L633.3 127.5 L633.5 124.8 L633.8 125.6 L634.0 124.6 L634.3 126.2 L634.5 126.0 L634.8 124.8 L635.0 125.6 L635.3 124.2 L635.5 124.5 L635.8 123.9 L636.0 126.3 L636.3 124.0 L636.6 123.8 L636.8 126.4 L637.1 125.0 L637.3 123.4 L637.6 123.7 L637.8 124.3 L638.1 123.6 L638.3 124.9 L638.6 123.5 L638.8 123.5 L639.1 126.0 L639.3 127.2 L639.6 126.7 L639.9 124.5 L640.1 125.7 L640.4 124.8 L640.6 127.3 L640.9 125.4 L641.1 125.7 L641.4 127.5 L641.6 126.7 L641.9 125.2 L642.1 123.8 L642.4 124.6 L642.6 123.3 L642.9 127.2 L643.2 124.8 L643.4 126.0 L643.7 125.3 L643.9 124.1 L644.2 125.4 L644.4 125.6 L644.7 125.0 L644.9 125.0 L645.2 125.5 L645.4 123.8 L645.7 124.9 L645.9 124.5 L646.2 124.1 L646.4 125.2 L646.7 122.3 L647.0 123.3 L647.2 124.8 L647.5 127.0 L647.7 125.8 L648.0 124.1 L648.2 126.9 L648.5 125.2 L648.7 124.2 L649.0 124.9 L649.2 127.0 L649.5 126.1 L649.7 124.1 L650.0 123.7 L650.3 125.8 L650.5 123.6 L650.8 124.4 L651.0 125.9 L651.3 123.7 L651.5 124.0 L651.8 125.3 L652.0 124.7 L652.3 126.7 L652.5 125.1 L652.8 125.8 L653.0 125.9 L653.3 124.3 L653.6 126.1 L653.8 126.7 L654.1 124.8 L654.3 124.3 L654.6 124.7 L654.8 126.9 L655.1 125.0 L655.3 124.4 L655.6 123.5 L655.8 125.0 L656.1 123.4 L656.3 126.2 L656.6 124.0 L656.9 123.4 L657.1 126.3 L657.4 125.5 L657.6 125.7 L657.9 123.9 L658.1 126.1 L658.4 125.5 L658.6 125.3 L658.9 126.2 L659.1 126.4 L659.4 125.0 L659.6 127.1 L659.9 125.8 L660.1 125.0 L660.4 125.9 L660.7 125.4 L660.9 127.1 L661.2 125.4 L661.4 124.9 L661.7 125.1 L661.9 126.2 L662.2 123.1 L662.4 123.5 L662.7 124.8 L662.9 125.7 L663.2 125.9 L663.4 124.7 L663.7 123.1 L664.0 122.4 L664.2 124.9 L664.5 124.5 L664.7 125.5 L665.0 126.3 L665.2 124.0 L665.5 126.8 L665.7 124.6 L666.0 124.9 L666.2 125.3 L666.5 122.7 L666.7 128.1 L667.0 124.7" fill="none" stroke="#3a4cc0" stroke-width="2.50" stroke-linejoin="round"/></g>
<line x1="531.6999999999999" y1="21.1" x2="534.3" y2="21.1" stroke="#333" stroke-width="0.7"/><text x="516.1" y="23.6" textLength="14.1" lengthAdjust="spacingAndGlyphs" font-family='"Liberation Sans", sans-serif' font-size="6.9" fill="#111" stroke="#111" stroke-width="0.15">−50</text><line x1="531.6999999999999" y1="38.4" x2="534.3" y2="38.4" stroke="#333" stroke-width="0.7"/><text x="516.1" y="40.9" textLength="14.1" lengthAdjust="spacingAndGlyphs" font-family='"Liberation Sans", sans-serif' font-size="6.9" fill="#111" stroke="#111" stroke-width="0.15">−55</text><line x1="531.6999999999999" y1="55.7" x2="534.3" y2="55.7" stroke="#333" stroke-width="0.7"/><text x="516.1" y="58.2" textLength="14.1" lengthAdjust="spacingAndGlyphs" font-family='"Liberation Sans", sans-serif' font-size="6.9" fill="#111" stroke="#111" stroke-width="0.15">−60</text><line x1="531.6999999999999" y1="73.0" x2="534.3" y2="73.0" stroke="#333" stroke-width="0.7"/><text x="516.1" y="75.5" textLength="14.1" lengthAdjust="spacingAndGlyphs" font-family='"Liberation Sans", sans-serif' font-size="6.9" fill="#111" stroke="#111" stroke-width="0.15">−65</text><line x1="531.6999999999999" y1="90.4" x2="534.3" y2="90.4" stroke="#333" stroke-width="0.7"/><text x="516.1" y="92.9" textLength="14.1" lengthAdjust="spacingAndGlyphs" font-family='"Liberation Sans", sans-serif' font-size="6.9" fill="#111" stroke="#111" stroke-width="0.15">−70</text><line x1="531.6999999999999" y1="107.7" x2="534.3" y2="107.7" stroke="#333" stroke-width="0.7"/><text x="516.1" y="110.2" textLength="14.1" lengthAdjust="spacingAndGlyphs" font-family='"Liberation Sans", sans-serif' font-size="6.9" fill="#111" stroke="#111" stroke-width="0.15">−75</text><line x1="531.6999999999999" y1="125.0" x2="534.3" y2="125.0" stroke="#333" stroke-width="0.7"/><text x="516.1" y="127.5" textLength="14.1" lengthAdjust="spacingAndGlyphs" font-family='"Liberation Sans", sans-serif' font-size="6.9" fill="#111" stroke="#111" stroke-width="0.15">−80</text><line x1="531.6999999999999" y1="142.3" x2="534.3" y2="142.3" stroke="#333" stroke-width="0.7"/><text x="516.1" y="144.8" textLength="14.1" lengthAdjust="spacingAndGlyphs" font-family='"Liberation Sans", sans-serif' font-size="6.9" fill="#111" stroke="#111" stroke-width="0.15">−85</text><line x1="535.3" y1="150.4" x2="535.3" y2="153.0" stroke="#333" stroke-width="0.7"/><text transform="translate(535.6,168.2) rotate(-45)" x="-12.9" y="2.4" textLength="25.8" lengthAdjust="spacingAndGlyphs" font-family='"Liberation Sans", sans-serif' font-size="6.9" fill="#111" stroke="#111" stroke-width="0.15">82.235</text><line x1="561.5" y1="150.4" x2="561.5" y2="153.0" stroke="#333" stroke-width="0.7"/><text transform="translate(561.8,168.2) rotate(-45)" x="-12.9" y="2.4" textLength="25.8" lengthAdjust="spacingAndGlyphs" font-family='"Liberation Sans", sans-serif' font-size="6.9" fill="#111" stroke="#111" stroke-width="0.15">82.240</text><line x1="587.7" y1="150.4" x2="587.7" y2="153.0" stroke="#333" stroke-width="0.7"/><text transform="translate(588.0,168.2) rotate(-45)" x="-12.9" y="2.4" textLength="25.8" lengthAdjust="spacingAndGlyphs" font-family='"Liberation Sans", sans-serif' font-size="6.9" fill="#111" stroke="#111" stroke-width="0.15">82.245</text><line x1="613.9" y1="150.4" x2="613.9" y2="153.0" stroke="#333" stroke-width="0.7"/><text transform="translate(614.2,168.2) rotate(-45)" x="-12.9" y="2.4" textLength="25.8" lengthAdjust="spacingAndGlyphs" font-family='"Liberation Sans", sans-serif' font-size="6.9" fill="#111" stroke="#111" stroke-width="0.15">82.250</text><line x1="640.1" y1="150.4" x2="640.1" y2="153.0" stroke="#333" stroke-width="0.7"/><text transform="translate(640.4,168.2) rotate(-45)" x="-12.9" y="2.4" textLength="25.8" lengthAdjust="spacingAndGlyphs" font-family='"Liberation Sans", sans-serif' font-size="6.9" fill="#111" stroke="#111" stroke-width="0.15">82.255</text><line x1="666.3" y1="150.4" x2="666.3" y2="153.0" stroke="#333" stroke-width="0.7"/><text transform="translate(666.6,168.2) rotate(-45)" x="-12.9" y="2.4" textLength="25.8" lengthAdjust="spacingAndGlyphs" font-family='"Liberation Sans", sans-serif' font-size="6.9" fill="#111" stroke="#111" stroke-width="0.15">82.260</text>
<text transform="translate(507.6,116.9) rotate(-90)" x="0" y="0" textLength="74.4" lengthAdjust="spacingAndGlyphs" font-family='"Liberation Sans", sans-serif' font-size="8.6" fill="#111" stroke="#111" stroke-width="0.15">Magnitude (dB)</text>
<text x="564.6" y="192.3" textLength="77.7" lengthAdjust="spacingAndGlyphs" font-family='"Liberation Sans", sans-serif' font-size="8.8" fill="#111" stroke="#111" stroke-width="0.15">Frequency (GHz)</text>
<text x="481" y="22.1" textLength="17.5" lengthAdjust="spacingAndGlyphs" font-family='"Liberation Sans", sans-serif' font-size="17.4" fill="#000" stroke="#000" stroke-width="0.55">(c)</text>
<g><line x1="390.1" y1="202.5" x2="390.1" y2="449.3" stroke="#c8c8c8" stroke-width="0.7" stroke-dasharray="1 2.6"/><line x1="409.4" y1="202.5" x2="409.4" y2="449.3" stroke="#c8c8c8" stroke-width="0.7" stroke-dasharray="1 2.6"/><line x1="423.0" y1="202.5" x2="423.0" y2="449.3" stroke="#c8c8c8" stroke-width="0.7" stroke-dasharray="1 2.6"/><line x1="433.6" y1="202.5" x2="433.6" y2="449.3" stroke="#c8c8c8" stroke-width="0.7" stroke-dasharray="1 2.6"/><line x1="442.3" y1="202.5" x2="442.3" y2="449.3" stroke="#c8c8c8" stroke-width="0.7" stroke-dasharray="1 2.6"/><line x1="449.6" y1="202.5" x2="449.6" y2="449.3" stroke="#c8c8c8" stroke-width="0.7" stroke-dasharray="1 2.6"/><line x1="455.9" y1="202.5" x2="455.9" y2="449.3" stroke="#c8c8c8" stroke-width="0.7" stroke-dasharray="1 2.6"/><line x1="461.5" y1="202.5" x2="461.5" y2="449.3" stroke="#c8c8c8" stroke-width="0.7" stroke-dasharray="1 2.6"/><line x1="499.4" y1="202.5" x2="499.4" y2="449.3" stroke="#c8c8c8" stroke-width="0.7" stroke-dasharray="1 2.6"/><line x1="518.7" y1="202.5" x2="518.7" y2="449.3" stroke="#c8c8c8" stroke-width="0.7" stroke-dasharray="1 2.6"/><line x1="532.4" y1="202.5" x2="532.4" y2="449.3" stroke="#c8c8c8" stroke-width="0.7" stroke-dasharray="1 2.6"/><line x1="543.0" y1="202.5" x2="543.0" y2="449.3" stroke="#c8c8c8" stroke-width="0.7" stroke-dasharray="1 2.6"/><line x1="551.6" y1="202.5" x2="551.6" y2="449.3" stroke="#c8c8c8" stroke-width="0.7" stroke-dasharray="1 2.6"/><line x1="558.9" y1="202.5" x2="558.9" y2="449.3" stroke="#c8c8c8" stroke-width="0.7" stroke-dasharray="1 2.6"/><line x1="565.3" y1="202.5" x2="565.3" y2="449.3" stroke="#c8c8c8" stroke-width="0.7" stroke-dasharray="1 2.6"/><line x1="570.9" y1="202.5" x2="570.9" y2="449.3" stroke="#c8c8c8" stroke-width="0.7" stroke-dasharray="1 2.6"/><line x1="608.8" y1="202.5" x2="608.8" y2="449.3" stroke="#c8c8c8" stroke-width="0.7" stroke-dasharray="1 2.6"/><line x1="628.0" y1="202.5" x2="628.0" y2="449.3" stroke="#c8c8c8" stroke-width="0.7" stroke-dasharray="1 2.6"/><line x1="641.7" y1="202.5" x2="641.7" y2="449.3" stroke="#c8c8c8" stroke-width="0.7" stroke-dasharray="1 2.6"/><line x1="652.3" y1="202.5" x2="652.3" y2="449.3" stroke="#c8c8c8" stroke-width="0.7" stroke-dasharray="1 2.6"/><line x1="660.9" y1="202.5" x2="660.9" y2="449.3" stroke="#c8c8c8" stroke-width="0.7" stroke-dasharray="1 2.6"/><line x1="668.3" y1="202.5" x2="668.3" y2="449.3" stroke="#c8c8c8" stroke-width="0.7" stroke-dasharray="1 2.6"/><line x1="674.6" y1="202.5" x2="674.6" y2="449.3" stroke="#c8c8c8" stroke-width="0.7" stroke-dasharray="1 2.6"/><line x1="680.2" y1="202.5" x2="680.2" y2="449.3" stroke="#c8c8c8" stroke-width="0.7" stroke-dasharray="1 2.6"/><line x1="357.2" y1="202.5" x2="357.2" y2="449.3" stroke="#e4e4e4" stroke-width="0.8"/><line x1="466.5" y1="202.5" x2="466.5" y2="449.3" stroke="#e4e4e4" stroke-width="0.8"/><line x1="575.9" y1="202.5" x2="575.9" y2="449.3" stroke="#e4e4e4" stroke-width="0.8"/><line x1="685.2" y1="202.5" x2="685.2" y2="449.3" stroke="#e4e4e4" stroke-width="0.8"/><line x1="357.2" y1="449.3" x2="685.2" y2="449.3" stroke="#e4e4e4" stroke-width="0.8"/><line x1="357.2" y1="424.6" x2="685.2" y2="424.6" stroke="#e4e4e4" stroke-width="0.8"/><line x1="357.2" y1="399.9" x2="685.2" y2="399.9" stroke="#e4e4e4" stroke-width="0.8"/><line x1="357.2" y1="375.3" x2="685.2" y2="375.3" stroke="#e4e4e4" stroke-width="0.8"/><line x1="357.2" y1="350.6" x2="685.2" y2="350.6" stroke="#e4e4e4" stroke-width="0.8"/><line x1="357.2" y1="325.9" x2="685.2" y2="325.9" stroke="#e4e4e4" stroke-width="0.8"/><line x1="357.2" y1="301.2" x2="685.2" y2="301.2" stroke="#e4e4e4" stroke-width="0.8"/><line x1="357.2" y1="276.5" x2="685.2" y2="276.5" stroke="#e4e4e4" stroke-width="0.8"/><line x1="357.2" y1="251.9" x2="685.2" y2="251.9" stroke="#e4e4e4" stroke-width="0.8"/><line x1="357.2" y1="227.2" x2="685.2" y2="227.2" stroke="#e4e4e4" stroke-width="0.8"/><line x1="357.2" y1="202.5" x2="685.2" y2="202.5" stroke="#e4e4e4" stroke-width="0.8"/></g>
<rect x="357.2" y="202.5" width="328.00000000000006" height="246.8" fill="none" stroke="#6a6a6a" stroke-width="0.9"/><line x1="357.2" y1="449.3" x2="360.5" y2="449.3" stroke="#262626" stroke-width="0.7"/><line x1="681.9000000000001" y1="449.3" x2="685.2" y2="449.3" stroke="#262626" stroke-width="0.7"/><text x="352.8" y="453.2" text-anchor="end" font-family='"Liberation Sans", sans-serif' font-size="10.6" fill="#262626">3</text><line x1="357.2" y1="424.6" x2="360.5" y2="424.6" stroke="#262626" stroke-width="0.7"/><line x1="681.9000000000001" y1="424.6" x2="685.2" y2="424.6" stroke="#262626" stroke-width="0.7"/><text x="352.8" y="428.5" text-anchor="end" font-family='"Liberation Sans", sans-serif' font-size="10.6" fill="#262626">3.5</text><line x1="357.2" y1="399.9" x2="360.5" y2="399.9" stroke="#262626" stroke-width="0.7"/><line x1="681.9000000000001" y1="399.9" x2="685.2" y2="399.9" stroke="#262626" stroke-width="0.7"/><text x="352.8" y="403.8" text-anchor="end" font-family='"Liberation Sans", sans-serif' font-size="10.6" fill="#262626">4</text><line x1="357.2" y1="375.3" x2="360.5" y2="375.3" stroke="#262626" stroke-width="0.7"/><line x1="681.9000000000001" y1="375.3" x2="685.2" y2="375.3" stroke="#262626" stroke-width="0.7"/><text x="352.8" y="379.2" text-anchor="end" font-family='"Liberation Sans", sans-serif' font-size="10.6" fill="#262626">4.5</text><line x1="357.2" y1="350.6" x2="360.5" y2="350.6" stroke="#262626" stroke-width="0.7"/><line x1="681.9000000000001" y1="350.6" x2="685.2" y2="350.6" stroke="#262626" stroke-width="0.7"/><text x="352.8" y="354.5" text-anchor="end" font-family='"Liberation Sans", sans-serif' font-size="10.6" fill="#262626">5</text><line x1="357.2" y1="325.9" x2="360.5" y2="325.9" stroke="#262626" stroke-width="0.7"/><line x1="681.9000000000001" y1="325.9" x2="685.2" y2="325.9" stroke="#262626" stroke-width="0.7"/><text x="352.8" y="329.8" text-anchor="end" font-family='"Liberation Sans", sans-serif' font-size="10.6" fill="#262626">5.5</text><line x1="357.2" y1="301.2" x2="360.5" y2="301.2" stroke="#262626" stroke-width="0.7"/><line x1="681.9000000000001" y1="301.2" x2="685.2" y2="301.2" stroke="#262626" stroke-width="0.7"/><text x="352.8" y="305.1" text-anchor="end" font-family='"Liberation Sans", sans-serif' font-size="10.6" fill="#262626">6</text><line x1="357.2" y1="276.5" x2="360.5" y2="276.5" stroke="#262626" stroke-width="0.7"/><line x1="681.9000000000001" y1="276.5" x2="685.2" y2="276.5" stroke="#262626" stroke-width="0.7"/><text x="352.8" y="280.4" text-anchor="end" font-family='"Liberation Sans", sans-serif' font-size="10.6" fill="#262626">6.5</text><line x1="357.2" y1="251.9" x2="360.5" y2="251.9" stroke="#262626" stroke-width="0.7"/><line x1="681.9000000000001" y1="251.9" x2="685.2" y2="251.9" stroke="#262626" stroke-width="0.7"/><text x="352.8" y="255.8" text-anchor="end" font-family='"Liberation Sans", sans-serif' font-size="10.6" fill="#262626">7</text><line x1="357.2" y1="227.2" x2="360.5" y2="227.2" stroke="#262626" stroke-width="0.7"/><line x1="681.9000000000001" y1="227.2" x2="685.2" y2="227.2" stroke="#262626" stroke-width="0.7"/><text x="352.8" y="231.1" text-anchor="end" font-family='"Liberation Sans", sans-serif' font-size="10.6" fill="#262626">7.5</text><line x1="357.2" y1="202.5" x2="360.5" y2="202.5" stroke="#262626" stroke-width="0.7"/><line x1="681.9000000000001" y1="202.5" x2="685.2" y2="202.5" stroke="#262626" stroke-width="0.7"/><text x="352.8" y="206.4" text-anchor="end" font-family='"Liberation Sans", sans-serif' font-size="10.6" fill="#262626">8</text><line x1="357.2" y1="449.3" x2="357.2" y2="446.0" stroke="#262626" stroke-width="0.7"/><line x1="357.2" y1="202.5" x2="357.2" y2="205.8" stroke="#262626" stroke-width="0.7"/><text x="349.0" y="467.1" font-family='"Liberation Sans", sans-serif' font-size="10.4" fill="#262626">10<tspan dx="1.3" dy="-7" font-size="8.2">1</tspan></text><line x1="466.5" y1="449.3" x2="466.5" y2="446.0" stroke="#262626" stroke-width="0.7"/><line x1="466.5" y1="202.5" x2="466.5" y2="205.8" stroke="#262626" stroke-width="0.7"/><text x="458.3" y="467.1" font-family='"Liberation Sans", sans-serif' font-size="10.4" fill="#262626">10<tspan dx="1.3" dy="-7" font-size="8.2">2</tspan></text><line x1="575.9" y1="449.3" x2="575.9" y2="446.0" stroke="#262626" stroke-width="0.7"/><line x1="575.9" y1="202.5" x2="575.9" y2="205.8" stroke="#262626" stroke-width="0.7"/><text x="567.7" y="467.1" font-family='"Liberation Sans", sans-serif' font-size="10.4" fill="#262626">10<tspan dx="1.3" dy="-7" font-size="8.2">3</tspan></text><line x1="685.2" y1="449.3" x2="685.2" y2="446.0" stroke="#262626" stroke-width="0.7"/><line x1="685.2" y1="202.5" x2="685.2" y2="205.8" stroke="#262626" stroke-width="0.7"/><text x="677.0" y="467.1" font-family='"Liberation Sans", sans-serif' font-size="10.4" fill="#262626">10<tspan dx="1.3" dy="-7" font-size="8.2">4</tspan></text><line x1="390.1" y1="449.3" x2="390.1" y2="447.5" stroke="#262626" stroke-width="0.6"/><line x1="390.1" y1="202.5" x2="390.1" y2="204.3" stroke="#262626" stroke-width="0.6"/><line x1="409.4" y1="449.3" x2="409.4" y2="447.5" stroke="#262626" stroke-width="0.6"/><line x1="409.4" y1="202.5" x2="409.4" y2="204.3" stroke="#262626" stroke-width="0.6"/><line x1="423.0" y1="449.3" x2="423.0" y2="447.5" stroke="#262626" stroke-width="0.6"/><line x1="423.0" y1="202.5" x2="423.0" y2="204.3" stroke="#262626" stroke-width="0.6"/><line x1="433.6" y1="449.3" x2="433.6" y2="447.5" stroke="#262626" stroke-width="0.6"/><line x1="433.6" y1="202.5" x2="433.6" y2="204.3" stroke="#262626" stroke-width="0.6"/><line x1="442.3" y1="449.3" x2="442.3" y2="447.5" stroke="#262626" stroke-width="0.6"/><line x1="442.3" y1="202.5" x2="442.3" y2="204.3" stroke="#262626" stroke-width="0.6"/><line x1="449.6" y1="449.3" x2="449.6" y2="447.5" stroke="#262626" stroke-width="0.6"/><line x1="449.6" y1="202.5" x2="449.6" y2="204.3" stroke="#262626" stroke-width="0.6"/><line x1="455.9" y1="449.3" x2="455.9" y2="447.5" stroke="#262626" stroke-width="0.6"/><line x1="455.9" y1="202.5" x2="455.9" y2="204.3" stroke="#262626" stroke-width="0.6"/><line x1="461.5" y1="449.3" x2="461.5" y2="447.5" stroke="#262626" stroke-width="0.6"/><line x1="461.5" y1="202.5" x2="461.5" y2="204.3" stroke="#262626" stroke-width="0.6"/><line x1="499.4" y1="449.3" x2="499.4" y2="447.5" stroke="#262626" stroke-width="0.6"/><line x1="499.4" y1="202.5" x2="499.4" y2="204.3" stroke="#262626" stroke-width="0.6"/><line x1="518.7" y1="449.3" x2="518.7" y2="447.5" stroke="#262626" stroke-width="0.6"/><line x1="518.7" y1="202.5" x2="518.7" y2="204.3" stroke="#262626" stroke-width="0.6"/><line x1="532.4" y1="449.3" x2="532.4" y2="447.5" stroke="#262626" stroke-width="0.6"/><line x1="532.4" y1="202.5" x2="532.4" y2="204.3" stroke="#262626" stroke-width="0.6"/><line x1="543.0" y1="449.3" x2="543.0" y2="447.5" stroke="#262626" stroke-width="0.6"/><line x1="543.0" y1="202.5" x2="543.0" y2="204.3" stroke="#262626" stroke-width="0.6"/><line x1="551.6" y1="449.3" x2="551.6" y2="447.5" stroke="#262626" stroke-width="0.6"/><line x1="551.6" y1="202.5" x2="551.6" y2="204.3" stroke="#262626" stroke-width="0.6"/><line x1="558.9" y1="449.3" x2="558.9" y2="447.5" stroke="#262626" stroke-width="0.6"/><line x1="558.9" y1="202.5" x2="558.9" y2="204.3" stroke="#262626" stroke-width="0.6"/><line x1="565.3" y1="449.3" x2="565.3" y2="447.5" stroke="#262626" stroke-width="0.6"/><line x1="565.3" y1="202.5" x2="565.3" y2="204.3" stroke="#262626" stroke-width="0.6"/><line x1="570.9" y1="449.3" x2="570.9" y2="447.5" stroke="#262626" stroke-width="0.6"/><line x1="570.9" y1="202.5" x2="570.9" y2="204.3" stroke="#262626" stroke-width="0.6"/><line x1="608.8" y1="449.3" x2="608.8" y2="447.5" stroke="#262626" stroke-width="0.6"/><line x1="608.8" y1="202.5" x2="608.8" y2="204.3" stroke="#262626" stroke-width="0.6"/><line x1="628.0" y1="449.3" x2="628.0" y2="447.5" stroke="#262626" stroke-width="0.6"/><line x1="628.0" y1="202.5" x2="628.0" y2="204.3" stroke="#262626" stroke-width="0.6"/><line x1="641.7" y1="449.3" x2="641.7" y2="447.5" stroke="#262626" stroke-width="0.6"/><line x1="641.7" y1="202.5" x2="641.7" y2="204.3" stroke="#262626" stroke-width="0.6"/><line x1="652.3" y1="449.3" x2="652.3" y2="447.5" stroke="#262626" stroke-width="0.6"/><line x1="652.3" y1="202.5" x2="652.3" y2="204.3" stroke="#262626" stroke-width="0.6"/><line x1="660.9" y1="449.3" x2="660.9" y2="447.5" stroke="#262626" stroke-width="0.6"/><line x1="660.9" y1="202.5" x2="660.9" y2="204.3" stroke="#262626" stroke-width="0.6"/><line x1="668.3" y1="449.3" x2="668.3" y2="447.5" stroke="#262626" stroke-width="0.6"/><line x1="668.3" y1="202.5" x2="668.3" y2="204.3" stroke="#262626" stroke-width="0.6"/><line x1="674.6" y1="449.3" x2="674.6" y2="447.5" stroke="#262626" stroke-width="0.6"/><line x1="674.6" y1="202.5" x2="674.6" y2="204.3" stroke="#262626" stroke-width="0.6"/><line x1="680.2" y1="449.3" x2="680.2" y2="447.5" stroke="#262626" stroke-width="0.6"/><line x1="680.2" y1="202.5" x2="680.2" y2="204.3" stroke="#262626" stroke-width="0.6"/>
<path d="M359.2 193.6 L363.8 198.6 M363.8 193.6 L359.2 198.6" stroke="#3a3a3a" stroke-width="0.75"/>
<text x="366.2" y="199.6" font-family='"Liberation Sans", sans-serif' font-size="10" fill="#262626">10<tspan dy="-6.3" font-size="7.7">4</tspan></text>
<text transform="translate(330.8,325.9) rotate(-90)" text-anchor="middle" font-family='"Liberation Sans", sans-serif' font-size="10.8" fill="#262626">Q</text>
<text y="482.4" font-family='"Liberation Sans", sans-serif' font-size="11.3" fill="#262626"><tspan x="499.6">U</tspan><tspan x="508.2" y="487.8" font-size="9">int</tspan><tspan x="521.4" y="482.4">/</tspan><tspan x="528.9">h</tspan><tspan x="535.2" font-family='"Liberation Serif", serif' font-style="italic" font-size="12">ν</tspan></text>
<text x="376" y="229.9" textLength="20" lengthAdjust="spacingAndGlyphs" font-family='"Liberation Sans", sans-serif' font-size="17.4" fill="#000" stroke="#000" stroke-width="0.55">(d)</text>
<path d="M377.1 441.7 L380.8 440.8 L384.5 439.9 L388.2 438.9 L392.0 437.9 L395.7 436.9 L399.4 435.9 L403.1 434.8 L406.8 433.7 L410.5 432.6 L414.2 431.4 L418.0 430.2 L421.7 429.0 L425.4 427.7 L429.1 426.4 L432.8 425.1 L436.5 423.7 L440.2 422.3 L444.0 420.8 L447.7 419.3 L451.4 417.8 L455.1 416.2 L458.8 414.5 L462.5 412.9 L466.2 411.2 L469.9 409.4 L473.7 407.6 L477.4 405.7 L481.1 403.8 L484.8 401.8 L488.5 399.8 L492.2 397.7 L495.9 395.6 L499.7 393.4 L503.4 391.1 L507.1 388.8 L510.8 386.5 L514.5 384.0 L518.2 381.6 L521.9 379.0 L525.7 376.4 L529.4 373.7 L533.1 371.0 L536.8 368.2 L540.5 365.3 L544.2 362.4 L547.9 359.3 L551.7 356.3 L555.4 353.1 L559.1 349.9 L562.8 346.6 L566.5 343.2 L570.2 339.7 L573.9 336.2 L577.7 332.6 L581.4 328.9 L585.1 325.1 L588.8 321.3 L592.5 317.4 L596.2 313.3 L599.9 309.2 L603.6 305.1 L607.4 300.8 L611.1 296.4 L614.8 292.0 L618.5 287.4 L622.2 282.8 L625.9 278.1 L629.6 273.3 L633.4 268.4 L637.1 263.4 L640.8 258.3 L644.5 253.1 L648.2 247.8 L651.9 242.4 L655.6 236.9 L659.4 231.3 L663.1 225.6 L666.8 219.8 L670.5 213.9" fill="none" stroke="#10f010" stroke-width="2.1"/>
<g fill="#0000ff"><circle cx="376.7" cy="426.8" r="3.5"/><circle cx="395.8" cy="438.6" r="3.5"/><circle cx="418.5" cy="434.3" r="3.5"/><circle cx="443.1" cy="425.3" r="3.5"/><circle cx="468.2" cy="415" r="3.5"/><circle cx="493.2" cy="402" r="3.5"/><circle cx="520.4" cy="381.5" r="3.5"/><circle cx="546.6" cy="358" r="3.5"/><circle cx="571.7" cy="334.1" r="3.5"/><circle cx="597.9" cy="305.4" r="3.5"/><circle cx="623" cy="281.7" r="3.5"/><circle cx="648.3" cy="255.2" r="3.5"/></g>
</svg>
</body></html>
